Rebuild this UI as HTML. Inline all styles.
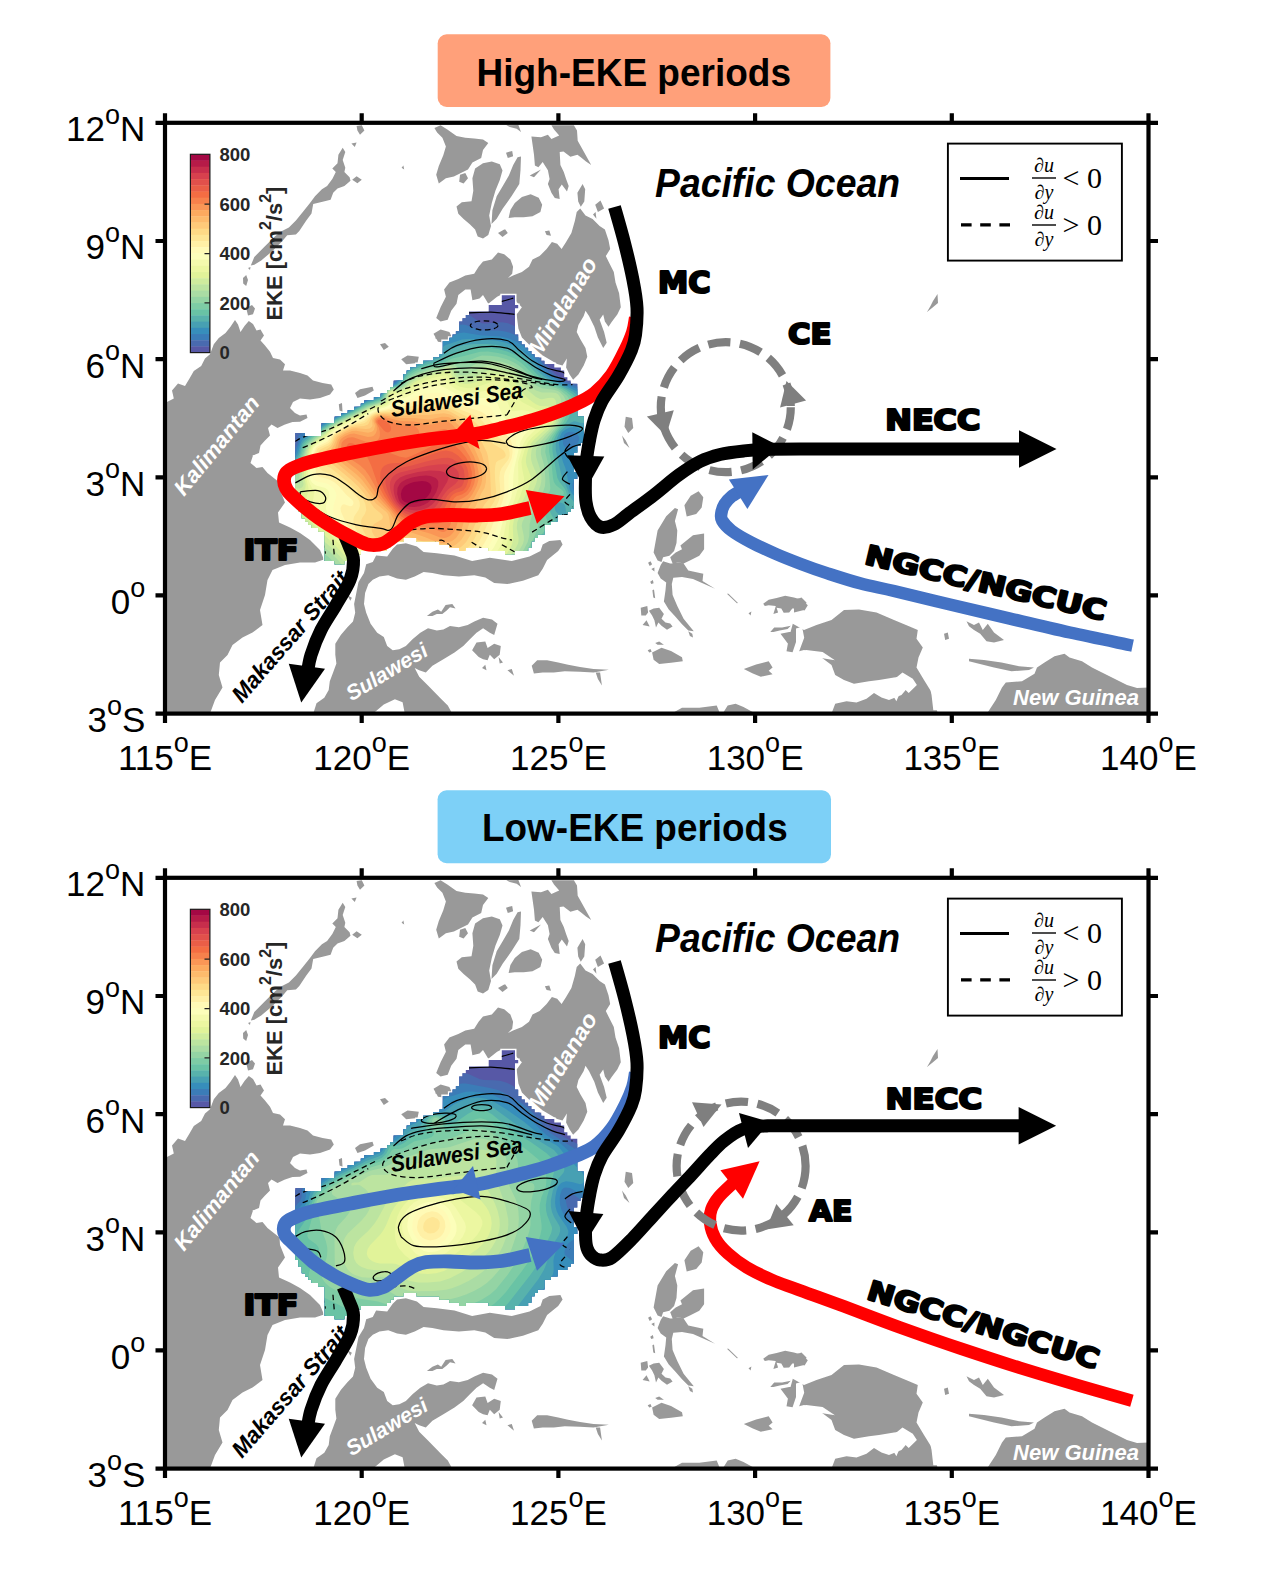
<!DOCTYPE html><html><head><meta charset="utf-8"><title>EKE periods schematic</title><style>html,body{margin:0;padding:0;background:#fff}svg{display:block}</style></head><body><svg width="1269" height="1585" viewBox="0 0 1269 1585">
<defs>
<clipPath id="sea"><path d="M301.8,433.0 298.5,433.0 295.2,433.0 295.2,436.2 295.2,439.5 295.2,442.8 295.2,446.1 295.2,449.4 295.2,452.6 295.2,455.9 295.2,459.2 295.2,462.5 295.2,465.8 295.2,469.0 295.2,472.3 295.2,475.6 295.2,478.9 295.2,482.2 295.2,485.4 295.2,488.7 295.2,492.0 295.2,495.3 295.2,498.6 295.2,501.8 295.2,505.1 298.5,505.1 298.5,508.4 298.5,511.7 301.8,511.7 301.8,515.0 301.8,518.2 305.0,518.2 305.0,521.5 308.3,521.5 308.3,524.8 311.6,524.8 311.6,528.1 314.9,528.1 318.2,528.1 318.2,531.4 321.4,531.4 324.7,531.4 324.7,534.6 324.7,537.9 324.7,541.2 324.7,544.5 324.7,547.8 324.7,551.0 324.7,554.3 324.7,557.6 324.7,560.9 328.0,560.9 331.3,560.9 334.6,560.9 334.6,564.2 337.8,564.2 341.1,564.2 344.4,564.2 344.4,560.9 347.7,560.9 351.0,560.9 354.2,560.9 357.5,560.9 357.5,557.6 357.5,554.3 360.8,554.3 360.8,551.0 364.1,551.0 367.4,551.0 370.6,551.0 373.9,551.0 377.2,551.0 380.5,551.0 383.8,551.0 387.0,551.0 387.0,547.8 390.3,547.8 390.3,544.5 393.6,544.5 393.6,541.2 396.9,541.2 400.2,541.2 403.4,541.2 403.4,537.9 406.7,537.9 410.0,537.9 413.3,537.9 416.6,537.9 416.6,541.2 419.8,541.2 423.1,541.2 426.4,541.2 429.7,541.2 433.0,541.2 436.2,541.2 439.5,541.2 439.5,544.5 442.8,544.5 446.1,544.5 449.4,544.5 449.4,547.8 452.6,547.8 455.9,547.8 459.2,547.8 459.2,551.0 462.5,551.0 465.8,551.0 465.8,547.8 469.0,547.8 472.3,547.8 475.6,547.8 478.9,547.8 482.2,547.8 485.4,547.8 488.7,547.8 488.7,551.0 492.0,551.0 495.3,551.0 498.6,551.0 501.8,551.0 505.1,551.0 505.1,554.3 508.4,554.3 511.7,554.3 515.0,554.3 515.0,551.0 518.2,551.0 521.5,551.0 524.8,551.0 528.1,551.0 528.1,547.8 531.4,547.8 531.4,544.5 531.4,541.2 534.6,541.2 534.6,537.9 537.9,537.9 537.9,534.6 541.2,534.6 544.5,534.6 544.5,531.4 544.5,528.1 544.5,524.8 547.8,524.8 551.0,524.8 551.0,521.5 554.3,521.5 557.6,521.5 557.6,518.2 557.6,515.0 560.9,515.0 564.2,515.0 567.4,515.0 567.4,511.7 570.7,511.7 570.7,508.4 574.0,508.4 574.0,505.1 574.0,501.8 574.0,498.6 574.0,495.3 574.0,492.0 574.0,488.7 574.0,485.4 574.0,482.2 574.0,478.9 577.3,478.9 577.3,475.6 577.3,472.3 574.0,472.3 574.0,469.0 574.0,465.8 574.0,462.5 574.0,459.2 574.0,455.9 574.0,452.6 577.3,452.6 577.3,449.4 577.3,446.1 580.6,446.1 580.6,442.8 583.8,442.8 583.8,439.5 583.8,436.2 583.8,433.0 583.8,429.7 583.8,426.4 583.8,423.1 583.8,419.8 583.8,416.6 580.6,416.6 577.3,416.6 577.3,413.3 577.3,410.0 577.3,406.7 577.3,403.4 577.3,400.2 577.3,396.9 577.3,393.6 577.3,390.3 577.3,387.0 577.3,383.8 574.0,383.8 570.7,383.8 570.7,380.5 567.4,380.5 567.4,377.2 564.2,377.2 564.2,373.9 564.2,370.6 560.9,370.6 560.9,367.4 557.6,367.4 554.3,367.4 554.3,364.1 551.0,364.1 547.8,364.1 544.5,364.1 544.5,360.8 541.2,360.8 541.2,357.5 537.9,357.5 534.6,357.5 534.6,354.2 531.4,354.2 531.4,351.0 528.1,351.0 528.1,347.7 524.8,347.7 524.8,344.4 521.5,344.4 521.5,341.1 518.2,341.1 518.2,337.8 518.2,334.6 515.0,334.6 515.0,331.3 515.0,328.0 515.0,324.7 515.0,321.4 515.0,318.2 515.0,314.9 515.0,311.6 515.0,308.3 518.2,308.3 518.2,305.0 515.0,305.0 515.0,301.8 515.0,298.5 515.0,295.2 511.7,295.2 508.4,295.2 505.1,295.2 501.8,295.2 501.8,298.5 501.8,301.8 501.8,305.0 498.6,305.0 495.3,305.0 492.0,305.0 488.7,305.0 488.7,308.3 488.7,311.6 485.4,311.6 482.2,311.6 478.9,311.6 475.6,311.6 472.3,311.6 469.0,311.6 469.0,314.9 465.8,314.9 465.8,318.2 462.5,318.2 462.5,321.4 459.2,321.4 459.2,324.7 459.2,328.0 459.2,331.3 455.9,331.3 455.9,334.6 452.6,334.6 452.6,337.8 449.4,337.8 449.4,341.1 446.1,341.1 442.8,341.1 442.8,344.4 442.8,347.7 442.8,351.0 442.8,354.2 439.5,354.2 439.5,357.5 436.2,357.5 433.0,357.5 433.0,360.8 429.7,360.8 426.4,360.8 423.1,360.8 423.1,364.1 419.8,364.1 416.6,364.1 416.6,367.4 413.3,367.4 410.0,367.4 410.0,370.6 406.7,370.6 406.7,373.9 403.4,373.9 403.4,377.2 403.4,380.5 400.2,380.5 396.9,380.5 393.6,380.5 393.6,383.8 393.6,387.0 390.3,387.0 390.3,390.3 387.0,390.3 387.0,393.6 383.8,393.6 380.5,393.6 380.5,396.9 377.2,396.9 373.9,396.9 373.9,400.2 370.6,400.2 367.4,400.2 364.1,400.2 364.1,403.4 360.8,403.4 360.8,406.7 357.5,406.7 354.2,406.7 354.2,410.0 351.0,410.0 347.7,410.0 347.7,413.3 344.4,413.3 341.1,413.3 341.1,416.6 337.8,416.6 334.6,416.6 334.6,419.8 334.6,423.1 331.3,423.1 328.0,423.1 324.7,423.1 321.4,423.1 321.4,426.4 321.4,429.7 321.4,433.0 321.4,436.2 318.2,436.2 314.9,436.2 311.6,436.2 308.3,436.2 305.0,436.2 305.0,433.0Z"/></clipPath>
<clipPath id="box"><rect x="165.0" y="122.8" width="983.5" height="590.8000000000001"/></clipPath>
<g id="land" fill="#999999">
<path d="M250.8,265.6 254.3,257 264.7,246.6 275.1,236.2 282,231 288.9,227.5 295.9,220.6 302.8,211.9 309.8,203.2 315,196.3 321.9,189.3 327.1,185.9 332.3,178.9 335.8,172 332.3,168.5 337.5,163.3 338.4,154.7 342.7,147.7 345.3,152.1 342.7,159.9 345.3,167.7 344.4,172 349.6,177.2 350.5,180.7 344.4,185.9 337.5,188.5 333.2,192.8 330.6,199.8 323.6,201.5 313.2,204.1 311.5,213.6 306.3,220.6 299.3,231 295.9,234.4 287.2,235.3 282,241.4 271.6,251.8 261.2,260.4 254.3,264.8ZM352.2,179.8 356.6,176.3 361.8,179.8 357.4,183.3ZM356.6,126.1 361.8,125.2 364.4,130.4 360,134.7 357.4,130.4ZM351.4,143.4 356.6,142.5 354.8,146.9ZM401.6,167.7 403.4,165.4 404.2,169.4ZM243,278 246.2,275 248,280 246.2,286 243.2,283.5ZM246.2,308 252,305 255,308.5 253,314.2 248,315.5ZM248,268 250.5,267 250,270ZM165,403 173.8,398.5 172,390.5 178,383.5 185,386 189.5,378.5 193.8,371 201.2,366 205,358.5 210,354.2 213.8,344.2 218.8,338 225.5,333 230.5,326.8 235,320 238,324.5 240.5,332 244.5,326 248.8,321 253,324 256.5,330.5 260.5,329.5 264,335.5 260.5,340.5 265,345.5 270,351.8 273,358 280,359.5 285,364.2 283,370.5 290,370.5 300,373 307.5,375.5 313,380.5 322.5,383 331.2,384.5 333.8,389.5 330,394.5 320,398 310,399.5 300,398.5 293,402 290,408 295,413 300,415.5 306.5,414.5 307.5,418 300,421.8 292.5,422 285,424.5 277.5,428 271.5,424.5 268,428 270,435.5 265,440.5 260.5,445.5 259,453 253,455.5 250.5,463 256.5,468 262.5,467 267.5,473 273.8,478 279.5,482.5 280,490 285,502.5 278,512.5 279,522.5 290,527.5 300,533 310,540 320,550 324,559.5 315,562.5 300,562.5 285,565 272.5,570 267.5,580 265,595 260,610 262.5,625 252.5,632.5 242.5,637.5 232.5,645 227.5,655 220,662.5 218.8,675 222.5,687.5 215,700 210,713.5 165,713.5ZM401.2,359.2 407.5,355.5 418.8,356.8 417.5,363 406.2,364.2ZM380,344.2 385,343 388.8,346.8 383.8,350ZM355,393 360,389.2 372.5,386.8 373.8,390.5 365,395.5 357.5,398ZM338.8,404.2 342,403 342.5,411.8 339.5,410.5ZM435,338 440,333 450,334.2 451.2,339.2 442.5,343ZM434.4,128 440.6,125.3 447.7,129.7 456.5,135.9 465.3,137.7 474.2,138.6 483,139.4 488.3,143 483,150 481.2,158 472.4,162.4 468,169.5 460.9,173 453.9,176.5 445.9,178.3 438.8,183.6 436.2,174.8 438.8,165.9 443.3,155.3 445.9,146.5 442.4,137.7 437.1,132.4ZM460,174.8 465.3,173 468,178.3 463.6,183.6 459.2,181.8ZM456.5,206.6 461.8,202.2 471.5,201.3 473.3,190.7 472.4,178.3 475.1,168.6 483,163.3 491.8,161.5 499.8,164.2 502.5,170.4 499.8,180.1 495.4,190.7 491.8,203.1 489.2,215.4 491,226 488.3,234.9 483,238.4 477.7,236.6 475.1,229.6 469.8,224.3 463.6,219 458.3,213.7ZM517.6,157.3 521,156.4 520.5,170.3 519.3,184.1 511.5,196.3 502.8,208.4 496.7,218.8 491.5,224 492.4,210.2 496.7,196.3 502.8,185.9 508.9,175.5 513.2,165.1ZM510.4,210.1 514.8,203.1 521.9,196.9 530.7,194.2 538.7,197.8 542.2,204.8 540.4,211.9 532.5,216.3 523.7,217.2 514.8,217.2 508.6,218.1ZM498,233.1 504.2,229.6 506.9,233.1 502.5,236.6ZM506,152.7 512.2,150.9 513.1,156.2 507.8,158ZM531.4,136.5 541,137.3 547.9,134.7 551.4,139.1 559.2,135.6 554,129.5 551.4,125.2 573.9,125.2 577,130.4 577.7,140.8 582.6,149.5 586.9,157.3 591.2,165.1 586,161.6 580.8,157.3 577.4,154.7 570.4,156.8 563.5,151.6 559.7,152.1 560.4,165.1 563.8,172 566.1,178.9 568.7,185.9 567,191.4 561.8,184.5 558.6,189.3 559.7,198.9 554.8,198 551.4,192.8 547.9,184.1 549.6,178.9 547.9,170.3 542.7,162 538.4,167.2 534.9,165.4 534,154.7ZM577.4,192.8 582.6,184.1 585.2,189.3 584.3,201.5 580.8,206.7 578.2,201.5ZM593,214.5 595.6,211.9 596.4,218.8ZM529.7,175.5 541,169.4 534,177.2ZM506.3,125.2 518.4,124.9 521,132.1 516.7,128.7 509.8,126.9ZM595.2,204.8 600.5,200.4 604.1,208.4 597.9,211.9ZM544.9,231.3 549.3,230.4 551,235.7 546.6,234.9ZM498,233.1 505.1,229.2 507.8,233.1 502.5,237ZM436.2,317.9 440.6,307.3 445.9,296.7 444.1,289.6 449.4,282.6 458.3,279 465.3,275.5 474.2,273.7 478.6,266.7 483,261.4 491.8,259.6 498,252.5 504.2,254.3 510.4,259.6 513.1,266.7 512.2,273.7 507.8,278.2 513.1,275.5 521.9,272 529,266.7 532.5,259.6 539.6,256.1 546.6,249 551.9,241.9 557.2,243.7 561.6,249 566.1,241.9 571.4,233.1 574.9,220.7 576.7,211.9 580.2,208.4 585.5,215.4 592.6,219 599.6,226 604.9,229.6 608.5,240.2 610.2,249 605.8,256.1 608.5,261.4 613.8,272 615.5,282.6 619.1,293.2 620.8,307.3 617.3,314.4 612,321.4 608.5,326.8 604.9,321.4 603.2,314.4 599.6,319.7 604.1,332.1 606.7,342.7 603.2,348 597.9,337.4 594.3,326.8 589,316.1 585.5,310.8 583.7,316.1 578.4,325 576.7,332.1 580.2,339.1 585.5,348 587.3,356.8 583.7,365.6 578.4,374.5 573.1,379.8 569.6,374.5 566.1,367.4 566.9,358.6 562.5,365.6 557.2,363.9 544.9,356.8 536,351.5 529,344.4 521.9,337.4 518.4,328.5 516.6,314.4 521.9,307.3 516.6,302 513.1,294.9 502.5,294.1 497.1,296.7 488.3,303.8 483,294.9 479.5,298.5 472.4,300.2 470.6,289.6 465.3,289.6 458.3,294.9 456.5,303.8 451.2,310.8 447.7,319.7 440.6,321.4ZM433.5,333.8 440.6,329.4 449.4,332.1 452.1,337.4 445.9,342.7 438,341.8ZM366.2,564.3 372.8,562.1 376.1,555.4 387.2,556.5 392.7,548.8 397.1,544.4 405.9,543.3 416.9,546.6 423.6,552.1 436.8,553.2 454.5,555.4 472.1,561 489.8,557.7 511.8,561 529.5,556.5 540.5,551 542.7,544.4 549.3,541.1 560.4,540 562.6,544.4 558.2,551 547.1,559.9 542.7,568.7 538.3,575.3 522.9,580.8 507.4,584.1 494.2,583 485.3,577.5 474.3,575.3 458.9,576.4 443.4,575.3 432.4,573.1 423.6,572 414.7,576.4 405.9,579.7 397.1,578.6 388.3,575.3 379.4,576.4 372.8,579.7 368.4,584.1 365.1,593 364,604 366.2,612.8 370.6,623.8 377.2,632.7 383.8,637.1 387.2,645.9 392.7,650.3 399.3,649.2 405.9,645.9 412.5,639.3 420.3,632.7 428,628.3 436.8,630.5 443.4,629.4 450,626.1 458.9,627.2 467.7,625 474.3,621.6 483.1,617.7 492,619.4 497.5,623.8 494.2,634.9 489.8,632.7 483.1,628.3 476.5,632.7 469.9,639.3 463.3,645.9 454.5,652.5 443.4,659.2 432.4,665.8 425.8,672.4 419.2,670.2 414.7,668 419.2,676.8 428,685.6 434.6,692.3 441.2,698.9 447.8,705.5 452.3,713.7 404.8,713.7 402.6,702.2 394.9,699.3 383.8,704.4 372.8,713.7 313.2,713.7 316.5,703.3 324.3,697.8 328.7,690 329.8,681.2 333.1,672.4 336.4,663.6 335.3,654.7 335.3,643.7 340.8,634.9 347.4,627.2 353,621.6 355.2,612.8 354.1,604 356.3,593 358.5,581.9 364,573.1ZM426.9,616.1 432.4,611.7 437.9,609.5 441.2,611.7 445.6,605.1 452.3,604 455.6,608.4 450,607.3 446.7,610.6 442.3,613.9 436.8,613.9 432.4,616.1ZM472.1,650.3 476.5,642.6 485.3,641.5 487.6,648.1 494.2,643.7 500.8,645.9 499.7,654.7 494.2,659.2 489.8,654.7 487.6,660.3 483.1,659.2 478.7,656.9ZM482,668 485.3,664.7 486.5,670.2ZM498.6,656.9 503,662.5 499.7,663.6ZM507.4,670.2 511.8,669.1 514,675.7ZM531.7,665.8 537.2,660.3 547.1,660.3 558.2,662.5 568.1,664.7 580,666.9 593.5,669.1 608.9,669.7 593.5,672.4 580,671.7 564.8,671.3 553.8,672.4 542.7,672.4 533.9,673.5ZM595.7,672.4 600.1,672.4 601.9,685.6 597.9,679ZM347.4,595.2 351.9,597.8 350.3,600.7ZM684.4,505.2 690.7,495.8 698.6,491.3 703.3,497.3 701.7,507.6 696.2,513.9 686.7,516.6ZM653.6,552.5 657.6,530.4 666.2,516.2 674.9,508.1 678.1,509.2 674.9,521 677.3,530.4 676.5,543 674.1,550.9 669.4,555.7 663.1,557.2 661.5,562 657.6,560.4ZM670.2,557.2 675.7,552.5 682,549.3 680.4,545.4 693,535.2 704.1,533.6 704.1,549.3 699.3,555.7 689.9,560.4 683.6,563.5 677.3,562 672.6,563.5ZM657.6,573 660.7,565.1 663.1,561.2 670.2,563.5 677.3,562.3 683.6,563.5 688.3,570.6 703.3,573.8 702.5,580.9 715.1,588.7 700.9,582.4 693,579 682,576.9 673.3,577.7 671.8,584 672.6,595.1 677.3,606.1 683.6,618.7 689.9,626.6 693.8,631.3 688.3,630.5 682,624.2 675.7,617.1 668.6,609.2 663.9,601.4 665.5,590.3 666.2,582.4 660.7,578.5ZM648.1,562.7 650.5,561.2 652.1,564.3 649.7,565.9ZM651.3,569 654.4,567.5 654.4,571.4ZM650.2,581.7 652.9,580.1 653.6,583.2 651.3,584ZM652.4,590.3 654,589.5 655.2,598.2 653.3,597.4ZM640.7,607.7 647.3,606.1 648.1,612.4 645.8,615.5 641.3,615.5ZM648.9,610.8 653.6,608.4 659.2,607.7 663.9,614 661.5,618.7 665.5,622.6 670.2,623.4 672.6,626.6 667,629.7 661.5,625.8 658.4,622.6 656,627.4 654.4,620.3 652.1,615.5ZM642.6,625 646.5,620.3 649.7,626.6ZM652.1,652.6 661.5,647.8 671,651 682,657.3 682.8,661.2 671,662.8 659.2,664.1 653.6,659.7ZM655.2,643.1 659.2,641.5 663.9,644.7 657.6,644.7ZM647.7,650.2 650.5,649 651.7,651.8 649.2,652.6ZM688.3,631.3 692.3,633.7 693,637.6 689.9,636ZM763.2,603.7 768.7,599.8 776.6,597.9 785.2,595.8 793.9,597.4 801.8,599.8 807.8,605.3 804.6,610.5 797.1,607.7 792.3,608.4 789.2,612.4 783.7,612.7 781.3,608.4 776.6,607.7 778.1,612.4 773.4,614 775.8,606.1 768.7,605.3 764.8,606.1ZM770.3,632.1 774.2,627.4 782.1,627.4 790.8,625.8 787.6,628.9 779.7,630.5 773.4,632.1ZM780.5,633.7 789.2,632.1 796.3,631.3 797.8,635.2 795.5,643.9 792.3,648.6 789.2,645.5 785.2,640ZM743.8,669.1 756.1,664.4 768.7,661.2 772.6,667.5 768.7,670.7 772.6,674.2 760.8,676.7 752.9,673.5ZM672.6,712.9 682,707.7 699.3,707.7 716.7,705.4 719.8,712.9ZM723,712.9 727.7,705.4 735.6,703.8 743.5,707 754.5,712.9ZM726.9,593.8 728.5,593.8 738,602.9 736.9,603.2ZM748.5,613.2 751.4,611.6 750.6,615.5ZM789,637.5 792.8,623.8 804,630 816.5,625 831.5,620 844,610 859,609.5 876.5,612.5 894,620 909,626.2 917.8,630 916.5,638.8 922.8,647.5 918.5,657.5 916.5,667.5 924,680 930.2,690 934,700 937.8,713.5 831.5,713.5 835.2,703.8 846.5,701.2 856.5,702.5 866.5,698.8 874,693 881.5,697.5 889,700 895.2,697.5 901.5,695 907.8,687.5 911.5,680 904,676.2 894,677.5 879,680 869,681.2 854,683.8 844,680 835.2,675 831.5,665 821.5,657.5 811.5,652.5 804,650 794,652.5 786.5,651.2ZM794,600 801.5,597.5 806.5,602.5 804,610 794,612.5ZM966.5,621.2 974,625 979,622.5 982.8,630 987.8,623.8 994,632.5 1004,640 994,642.5 986.5,641.2 980.2,633.8 974,630 969,626.2ZM944,633.8 947.8,632.5 949,638.8 945.2,640ZM969,658.8 984,660 1001.5,662.5 1019,666.2 1034,667.5 1029,670 1011.5,671.2 994,667.5 979,663.8 969,661.2ZM987,713.5 995.8,700 1002,687.5 1005.8,682.5 1022,681.2 1034.5,673.8 1037,667.5 1044.5,662.5 1054.5,656.2 1064.5,653.8 1069.5,657.5 1082,661.2 1092,667.5 1102,672.5 1114.5,678.8 1127,685 1137,688 1148.5,687.5 1148.5,713.5ZM937.5,294 938,303 932,308 927,312 930.5,306 933,301ZM625.75,416.75 632,418 633.25,428 628.25,433 624.5,426.75ZM622,435.5 625.75,440.5 629.5,448 624,443Z"/>
<path fill="#fff" d="M796,628.4 802.1,626.7 804.2,637.8 798.9,652.1 791.9,654.2 796,641.9ZM793.9,654.2 806.2,650.1 822.6,652.1 834.9,660.3 822.6,658.3 810.3,660.3 798,662.4ZM880,684.9 892.3,680.8 902.5,672.6 912.8,678.8 916.9,684.9 908.7,693.1 902.5,687 896.4,701.3 890.2,691.1 884.1,697.2ZM930.4,684.9 935.3,684.9 937.4,710.3 933.3,710.3ZM252.5,455 277.5,463.8 270,465 255,460ZM260,450 272.5,447.5 278.8,457.5 270,455ZM300,403 320,405.5 312.5,410.5 302.5,409.2ZM270,443 277.5,440.5 276.2,453 271.2,454.2Z"/>
</g>
<g id="axes" stroke="#000" stroke-width="4.2" fill="none">
<rect x="165.0" y="122.8" width="983.5" height="590.8000000000001"/>
<path d="M165.0,122.8v-9.5M165.0,713.6v9.5M165.0,122.8h-9.5M1148.5,122.8h9.5M361.7,122.8v-9.5M361.7,713.6v9.5M165.0,241.0h-9.5M1148.5,241.0h9.5M558.4,122.8v-9.5M558.4,713.6v9.5M165.0,359.1h-9.5M1148.5,359.1h9.5M755.1,122.8v-9.5M755.1,713.6v9.5M165.0,477.3h-9.5M1148.5,477.3h9.5M951.8,122.8v-9.5M951.8,713.6v9.5M165.0,595.4h-9.5M1148.5,595.4h9.5M1148.5,122.8v-9.5M1148.5,713.6v9.5M165.0,713.6h-9.5M1148.5,713.6h9.5"/>
</g>
<linearGradient id="cb" x1="0" y1="0" x2="0" y2="1"><stop offset="0.0000" stop-color="#9e0142"/><stop offset="0.0625" stop-color="#be254a"/><stop offset="0.1250" stop-color="#dc484c"/><stop offset="0.1875" stop-color="#ef6645"/><stop offset="0.2500" stop-color="#f88c51"/><stop offset="0.3125" stop-color="#fdb365"/><stop offset="0.3750" stop-color="#fed27f"/><stop offset="0.4375" stop-color="#feeb9d"/><stop offset="0.5000" stop-color="#fffebe"/><stop offset="0.5625" stop-color="#f0f9a7"/><stop offset="0.6250" stop-color="#d8ef9b"/><stop offset="0.6875" stop-color="#b3e0a2"/><stop offset="0.7500" stop-color="#89d0a4"/><stop offset="0.8125" stop-color="#60bba8"/><stop offset="0.8750" stop-color="#3f97b7"/><stop offset="0.9375" stop-color="#4273b3"/><stop offset="1.0000" stop-color="#5e4fa2"/></linearGradient>
</defs>
<rect width="1269" height="1585" fill="#fff"/>
<g transform="translate(0,0)">
<g clip-path="url(#box)">
<use href="#land"/>
<path d="M301.8,433.0 298.5,433.0 295.2,433.0 295.2,436.2 295.2,439.5 295.2,442.8 295.2,446.1 295.2,449.4 295.2,452.6 295.2,455.9 295.2,459.2 295.2,462.5 295.2,465.8 295.2,469.0 295.2,472.3 295.2,475.6 295.2,478.9 295.2,482.2 295.2,485.4 295.2,488.7 295.2,492.0 295.2,495.3 295.2,498.6 295.2,501.8 295.2,505.1 298.5,505.1 298.5,508.4 298.5,511.7 301.8,511.7 301.8,515.0 301.8,518.2 305.0,518.2 305.0,521.5 308.3,521.5 308.3,524.8 311.6,524.8 311.6,528.1 314.9,528.1 318.2,528.1 318.2,531.4 321.4,531.4 324.7,531.4 324.7,534.6 324.7,537.9 324.7,541.2 324.7,544.5 324.7,547.8 324.7,551.0 324.7,554.3 324.7,557.6 324.7,560.9 328.0,560.9 331.3,560.9 334.6,560.9 334.6,564.2 337.8,564.2 341.1,564.2 344.4,564.2 344.4,560.9 347.7,560.9 351.0,560.9 354.2,560.9 357.5,560.9 357.5,557.6 357.5,554.3 360.8,554.3 360.8,551.0 364.1,551.0 367.4,551.0 370.6,551.0 373.9,551.0 377.2,551.0 380.5,551.0 383.8,551.0 387.0,551.0 387.0,547.8 390.3,547.8 390.3,544.5 393.6,544.5 393.6,541.2 396.9,541.2 400.2,541.2 403.4,541.2 403.4,537.9 406.7,537.9 410.0,537.9 413.3,537.9 416.6,537.9 416.6,541.2 419.8,541.2 423.1,541.2 426.4,541.2 429.7,541.2 433.0,541.2 436.2,541.2 439.5,541.2 439.5,544.5 442.8,544.5 446.1,544.5 449.4,544.5 449.4,547.8 452.6,547.8 455.9,547.8 459.2,547.8 459.2,551.0 462.5,551.0 465.8,551.0 465.8,547.8 469.0,547.8 472.3,547.8 475.6,547.8 478.9,547.8 482.2,547.8 485.4,547.8 488.7,547.8 488.7,551.0 492.0,551.0 495.3,551.0 498.6,551.0 501.8,551.0 505.1,551.0 505.1,554.3 508.4,554.3 511.7,554.3 515.0,554.3 515.0,551.0 518.2,551.0 521.5,551.0 524.8,551.0 528.1,551.0 528.1,547.8 531.4,547.8 531.4,544.5 531.4,541.2 534.6,541.2 534.6,537.9 537.9,537.9 537.9,534.6 541.2,534.6 544.5,534.6 544.5,531.4 544.5,528.1 544.5,524.8 547.8,524.8 551.0,524.8 551.0,521.5 554.3,521.5 557.6,521.5 557.6,518.2 557.6,515.0 560.9,515.0 564.2,515.0 567.4,515.0 567.4,511.7 570.7,511.7 570.7,508.4 574.0,508.4 574.0,505.1 574.0,501.8 574.0,498.6 574.0,495.3 574.0,492.0 574.0,488.7 574.0,485.4 574.0,482.2 574.0,478.9 577.3,478.9 577.3,475.6 577.3,472.3 574.0,472.3 574.0,469.0 574.0,465.8 574.0,462.5 574.0,459.2 574.0,455.9 574.0,452.6 577.3,452.6 577.3,449.4 577.3,446.1 580.6,446.1 580.6,442.8 583.8,442.8 583.8,439.5 583.8,436.2 583.8,433.0 583.8,429.7 583.8,426.4 583.8,423.1 583.8,419.8 583.8,416.6 580.6,416.6 577.3,416.6 577.3,413.3 577.3,410.0 577.3,406.7 577.3,403.4 577.3,400.2 577.3,396.9 577.3,393.6 577.3,390.3 577.3,387.0 577.3,383.8 574.0,383.8 570.7,383.8 570.7,380.5 567.4,380.5 567.4,377.2 564.2,377.2 564.2,373.9 564.2,370.6 560.9,370.6 560.9,367.4 557.6,367.4 554.3,367.4 554.3,364.1 551.0,364.1 547.8,364.1 544.5,364.1 544.5,360.8 541.2,360.8 541.2,357.5 537.9,357.5 534.6,357.5 534.6,354.2 531.4,354.2 531.4,351.0 528.1,351.0 528.1,347.7 524.8,347.7 524.8,344.4 521.5,344.4 521.5,341.1 518.2,341.1 518.2,337.8 518.2,334.6 515.0,334.6 515.0,331.3 515.0,328.0 515.0,324.7 515.0,321.4 515.0,318.2 515.0,314.9 515.0,311.6 515.0,308.3 518.2,308.3 518.2,305.0 515.0,305.0 515.0,301.8 515.0,298.5 515.0,295.2 511.7,295.2 508.4,295.2 505.1,295.2 501.8,295.2 501.8,298.5 501.8,301.8 501.8,305.0 498.6,305.0 495.3,305.0 492.0,305.0 488.7,305.0 488.7,308.3 488.7,311.6 485.4,311.6 482.2,311.6 478.9,311.6 475.6,311.6 472.3,311.6 469.0,311.6 469.0,314.9 465.8,314.9 465.8,318.2 462.5,318.2 462.5,321.4 459.2,321.4 459.2,324.7 459.2,328.0 459.2,331.3 455.9,331.3 455.9,334.6 452.6,334.6 452.6,337.8 449.4,337.8 449.4,341.1 446.1,341.1 442.8,341.1 442.8,344.4 442.8,347.7 442.8,351.0 442.8,354.2 439.5,354.2 439.5,357.5 436.2,357.5 433.0,357.5 433.0,360.8 429.7,360.8 426.4,360.8 423.1,360.8 423.1,364.1 419.8,364.1 416.6,364.1 416.6,367.4 413.3,367.4 410.0,367.4 410.0,370.6 406.7,370.6 406.7,373.9 403.4,373.9 403.4,377.2 403.4,380.5 400.2,380.5 396.9,380.5 393.6,380.5 393.6,383.8 393.6,387.0 390.3,387.0 390.3,390.3 387.0,390.3 387.0,393.6 383.8,393.6 380.5,393.6 380.5,396.9 377.2,396.9 373.9,396.9 373.9,400.2 370.6,400.2 367.4,400.2 364.1,400.2 364.1,403.4 360.8,403.4 360.8,406.7 357.5,406.7 354.2,406.7 354.2,410.0 351.0,410.0 347.7,410.0 347.7,413.3 344.4,413.3 341.1,413.3 341.1,416.6 337.8,416.6 334.6,416.6 334.6,419.8 334.6,423.1 331.3,423.1 328.0,423.1 324.7,423.1 321.4,423.1 321.4,426.4 321.4,429.7 321.4,433.0 321.4,436.2 318.2,436.2 314.9,436.2 311.6,436.2 308.3,436.2 305.0,436.2 305.0,433.0Z" fill="#fff" stroke="#fff" stroke-width="3" stroke-linejoin="miter"/>
<g clip-path="url(#sea)" fill-rule="evenodd">
<rect x="285" y="285" width="310" height="290" fill="#5758a6"/>
<path d="M460.0,315.6 466.0,314.3 470.0,315.2 479.4,322.0 482.0,323.3 486.0,323.6 496.0,322.4 502.0,322.2 508.0,323.2 514.0,325.7 522.0,331.5 530.0,339.8 538.0,350.5 547.8,366.0 551.0,370.0 555.2,374.0 564.0,379.9 566.0,380.8 582.0,385.0 594.0,389.0 594.0,570.1 584.0,565.8 568.0,557.7 562.0,555.8 558.0,555.6 554.0,556.5 552.0,557.8 550.2,560.0 548.0,565.2 545.8,574.0 284.0,574.0 284.0,458.7 290.0,453.8 292.0,451.1 293.5,448.0 295.7,442.0 295.5,440.0 294.0,436.0 294.2,434.0 295.5,432.0 298.0,430.8 308.0,428.3 318.0,424.1 330.0,417.5 349.1,408.0 364.0,399.4 372.9,396.0 376.9,394.0 384.0,385.3 388.0,383.0 392.0,381.8 394.9,380.0 402.0,369.4 406.0,364.9 424.8,350.0 438.0,334.6 450.0,322.5 456.0,317.7Z" fill="#496aaf"/>
<path d="M458.0,325.2 462.0,324.4 466.0,325.0 476.0,328.9 482.0,330.5 498.0,330.6 504.0,331.2 510.0,332.8 516.0,335.4 524.0,340.8 530.0,346.6 536.0,353.8 545.9,368.0 552.0,374.4 564.0,381.9 580.0,387.2 594.0,393.5 594.0,560.4 584.0,556.7 568.0,549.2 564.0,548.1 560.0,547.9 556.0,548.4 550.7,550.0 548.0,551.5 546.0,553.6 543.3,560.0 539.6,574.0 284.0,574.0 284.0,462.0 290.0,457.4 294.0,452.6 298.1,442.0 298.3,436.0 300.1,434.0 318.0,425.7 330.0,418.9 351.4,408.0 362.0,401.7 368.0,398.9 376.0,396.1 378.0,394.9 380.0,392.7 382.8,388.0 384.8,386.0 388.0,384.1 394.0,382.5 396.0,380.9 403.4,370.0 408.0,365.3 427.3,352.0 431.4,348.0 438.0,340.2 442.0,336.5 454.0,327.3Z" fill="#3b7cb7"/>
<path d="M458.0,333.6 460.0,332.9 464.0,332.6 480.0,335.2 500.0,336.5 508.0,338.3 516.0,341.5 524.0,346.7 530.0,352.2 535.0,358.0 544.1,370.0 550.4,376.0 564.0,383.5 579.8,390.0 594.0,398.9 594.0,551.6 582.0,548.2 570.0,542.1 566.0,540.7 562.0,541.2 554.0,544.0 546.0,547.6 543.2,550.0 540.0,556.7 534.5,574.0 284.0,574.0 284.0,465.1 292.0,458.7 295.6,454.0 300.0,440.8 301.3,438.0 303.3,436.0 309.6,432.0 330.0,420.1 352.0,408.9 364.0,401.8 378.7,396.0 380.6,394.0 384.0,388.0 386.0,386.1 390.0,384.5 394.0,383.9 396.8,382.0 404.0,371.5 408.0,367.5 412.0,364.6 430.1,354.0 434.7,350.0 440.0,343.8 444.0,340.5ZM568.5,432.0 566.0,433.1 564.0,435.1 562.8,440.0 563.2,444.0 564.0,446.1 566.0,448.6 568.0,449.4 572.0,447.9 576.8,444.0 578.3,442.0 579.1,440.0 579.2,438.0 578.6,436.0 576.0,433.2 572.0,431.7ZM575.4,478.0 573.7,480.0 572.6,484.0 572.5,488.0 574.0,491.0 578.0,493.1 582.0,493.6 586.0,492.6 588.0,491.3 589.2,490.0 590.0,488.1 590.1,486.0 589.5,484.0 588.3,482.0 586.0,479.9 582.0,477.8 578.0,477.1Z" fill="#378ebb"/>
<path d="M462.0,339.6 470.0,339.1 496.0,340.6 506.0,342.7 516.0,346.5 522.0,350.2 528.0,355.2 532.6,360.0 542.4,372.0 546.8,376.0 552.0,379.3 578.0,392.0 583.3,396.0 594.0,406.3 594.0,474.2 578.0,468.0 575.2,466.0 573.7,464.0 572.9,462.0 572.6,458.0 574.0,454.0 576.0,451.4 583.6,444.0 585.7,440.0 585.9,436.0 585.2,434.0 582.0,430.4 578.0,428.1 574.0,427.0 570.0,427.4 566.0,429.3 562.4,432.0 561.1,434.0 559.6,438.0 558.9,444.0 560.0,451.0 563.0,462.0 565.4,468.0 566.4,472.0 569.4,488.0 570.0,490.0 572.0,493.7 576.0,497.4 582.0,500.1 588.0,501.2 594.0,501.0 594.0,542.8 586.0,542.0 582.0,541.0 578.0,539.2 573.7,536.0 568.0,527.8 566.0,527.3 564.4,528.0 561.4,534.0 559.6,536.0 556.0,538.6 546.0,543.9 541.1,548.0 537.6,554.0 530.0,574.0 296.2,574.0 284.0,564.9 284.0,468.2 290.0,463.5 296.0,456.8 298.0,452.8 300.4,444.0 302.0,440.6 304.0,438.4 312.7,432.0 330.0,421.3 342.0,414.8 352.0,410.1 364.0,403.0 368.0,401.1 377.6,398.0 380.0,396.6 381.9,394.0 383.6,390.0 385.1,388.0 388.0,386.0 394.0,385.0 396.3,384.0 400.2,380.0 405.5,372.0 410.0,368.0 414.0,365.5 436.0,354.6 439.0,352.0 444.0,346.1 446.0,344.9Z" fill="#47a0b3"/>
<path d="M474.0,343.9 488.0,344.0 498.0,345.1 508.0,347.7 516.0,351.1 522.0,354.8 528.0,359.8 538.8,372.0 544.0,376.8 549.1,380.0 560.0,384.8 573.5,392.0 578.4,396.0 581.5,400.0 588.4,414.0 589.6,418.0 589.4,420.0 587.8,422.0 584.0,423.0 580.0,422.7 576.0,421.4 574.0,421.2 570.0,423.0 564.0,427.8 559.9,432.0 557.0,438.0 555.7,444.0 555.8,450.0 561.6,476.0 566.0,485.6 570.9,498.0 574.0,501.9 580.0,506.9 586.0,511.1 594.0,515.8 594.0,530.0 590.0,531.8 586.0,532.4 582.0,532.0 580.0,531.0 578.0,528.0 575.2,522.0 573.4,520.0 568.0,516.0 566.5,514.0 565.2,506.0 563.9,504.0 562.0,503.0 560.0,502.6 558.0,503.1 556.4,504.0 555.1,506.0 554.7,508.0 555.1,510.0 556.2,512.0 560.7,516.0 562.1,518.0 562.4,520.0 562.0,522.0 560.0,528.5 558.0,531.9 556.0,533.9 544.0,541.9 537.9,548.0 534.5,554.0 525.6,574.0 309.1,574.0 284.0,555.7 284.0,471.2 290.0,466.5 296.0,459.8 299.1,454.0 301.9,444.0 304.0,440.9 314.0,432.9 330.7,422.0 342.0,415.9 352.0,411.2 366.0,403.1 380.0,398.0 382.1,396.0 384.6,390.0 386.3,388.0 390.0,386.2 394.2,386.0 398.1,384.0 401.7,380.0 406.0,373.6 412.0,368.8 426.0,362.4 440.0,357.8 448.0,350.6 452.0,348.4 464.0,345.1ZM594.0,445.9 594.0,463.8 586.0,463.3 582.0,462.0 580.0,460.4 578.8,458.0 579.0,456.0 580.0,454.4 582.0,452.8Z" fill="#58b2ac"/>
<path d="M478.0,347.9 488.0,347.8 498.0,349.1 508.0,351.8 516.0,355.3 522.0,359.2 526.0,362.5 536.8,374.0 542.0,378.4 548.0,381.8 560.0,386.4 566.5,390.0 572.4,394.0 576.0,398.0 577.5,402.0 577.1,406.0 576.0,407.7 570.9,412.0 568.7,418.0 566.4,422.0 559.4,430.0 556.6,434.0 553.8,440.0 552.7,444.0 552.3,448.0 552.6,452.0 557.4,478.0 559.5,482.0 564.3,488.0 566.0,491.1 566.8,494.0 566.7,496.0 565.9,498.0 564.0,499.1 558.0,499.6 554.0,501.0 552.0,502.9 550.3,506.0 549.8,508.0 550.2,512.0 552.0,515.7 556.5,522.0 557.3,526.0 556.0,528.7 544.0,537.7 536.2,546.0 531.4,554.0 521.2,574.0 320.4,574.0 310.8,566.0 292.0,553.1 284.0,547.0 284.0,474.4 292.0,467.7 296.0,462.8 299.8,456.0 302.7,446.0 303.6,444.0 305.3,442.0 314.7,434.0 332.0,422.4 342.0,416.9 352.5,412.0 366.0,404.2 380.0,399.2 382.0,397.7 383.1,396.0 385.6,390.0 387.6,388.0 390.0,386.9 396.0,386.3 398.0,385.3 401.8,382.0 408.0,373.8 414.0,369.6 428.0,364.1 442.0,361.5 450.0,355.3 456.0,352.6 470.0,349.2Z" fill="#69c3a5"/>
<path d="M480.0,351.7 488.0,351.5 498.0,352.9 506.0,355.0 514.0,358.3 520.0,362.0 524.0,365.2 534.7,376.0 539.5,380.0 546.0,383.4 556.0,386.4 562.0,389.3 566.2,392.0 570.9,396.0 573.3,400.0 573.4,402.0 572.8,404.0 567.7,410.0 565.4,418.0 563.6,422.0 556.0,432.0 552.3,438.0 549.7,444.0 549.0,448.0 549.1,452.0 551.3,462.0 553.0,478.0 553.9,482.0 556.0,485.2 562.0,490.0 563.6,492.0 563.9,494.0 562.0,495.6 556.0,496.0 552.0,497.4 550.0,498.9 547.4,502.0 545.6,506.0 544.9,512.0 545.6,516.0 548.7,524.0 548.5,526.0 547.3,528.0 540.0,536.3 532.9,546.0 516.7,574.0 329.5,574.0 324.0,568.2 318.0,563.1 292.0,545.0 284.0,538.6 284.0,477.8 292.0,471.0 296.0,466.0 300.4,458.0 304.2,446.0 307.5,442.0 316.0,434.5 332.0,423.5 344.0,416.9 354.0,412.3 366.0,405.3 380.6,400.0 382.9,398.0 386.0,390.9 388.0,388.6 390.0,387.7 396.0,387.1 398.9,386.0 403.5,382.0 408.1,376.0 414.0,371.7 420.0,369.0 428.0,366.3 434.0,365.1 442.0,364.3 448.0,360.4 452.0,358.5 464.0,356.1Z" fill="#7ecca5"/>
<path d="M482.0,355.6 490.0,355.7 498.0,356.8 506.0,358.9 512.0,361.4 516.7,364.0 522.0,368.0 532.2,378.0 538.0,382.7 544.0,385.5 556.0,388.1 560.0,389.9 567.3,396.0 569.7,400.0 569.7,402.0 564.8,410.0 562.9,418.0 561.4,422.0 558.8,426.0 551.0,436.0 547.5,442.0 545.9,446.0 545.2,452.0 548.0,463.3 550.3,488.0 550.1,490.0 549.3,492.0 543.5,500.0 540.7,506.0 539.0,514.0 538.6,524.0 537.1,530.0 533.7,538.0 528.3,548.0 512.0,574.0 337.1,574.0 330.3,566.0 324.0,560.1 293.0,538.0 284.0,530.0 284.0,481.7 292.7,474.0 296.0,469.8 301.0,460.0 305.8,446.0 307.3,444.0 314.0,437.6 330.0,425.8 342.0,418.9 354.0,413.3 368.0,405.5 378.0,402.2 382.0,400.3 384.1,398.0 386.3,392.0 388.0,389.5 390.0,388.4 398.0,387.4 400.9,386.0 403.4,384.0 410.0,376.6 416.0,372.7 428.0,368.3 442.0,366.1 450.0,362.1 454.0,361.6 462.0,362.4 466.0,361.8 478.0,356.7Z" fill="#94d4a4"/>
<path d="M480.0,361.6 486.0,360.2 494.0,360.4 502.0,361.7 510.0,364.5 514.0,366.5 519.0,370.0 531.4,382.0 536.0,385.5 542.0,388.2 554.0,389.8 558.0,391.0 560.0,392.3 563.6,396.0 565.6,400.0 565.4,402.0 562.2,410.0 560.8,418.0 559.4,422.0 557.0,426.0 545.5,440.0 543.0,444.0 541.3,448.0 540.9,450.0 540.9,454.0 543.8,464.0 544.9,472.0 545.4,480.0 545.0,486.0 543.0,492.0 535.5,506.0 531.1,518.0 529.7,524.0 529.2,536.0 527.7,542.0 524.0,549.3 507.0,574.0 343.7,574.0 334.0,562.2 328.0,556.5 294.0,531.1 286.5,524.0 284.0,520.7 284.0,486.6 288.0,482.1 294.0,477.1 296.0,474.8 302.0,461.3 306.1,448.0 308.9,444.0 315.3,438.0 330.0,426.9 340.0,421.0 354.7,414.0 368.0,406.5 378.0,403.2 382.0,401.5 384.0,399.7 385.1,398.0 387.1,392.0 388.6,390.0 390.0,389.1 392.0,388.8 398.0,388.4 402.0,386.7 405.3,384.0 412.0,377.2 417.5,374.0 428.0,370.3 442.0,367.5 448.0,364.6 450.0,364.2 454.0,364.8 456.3,366.0 460.0,368.9 462.0,369.5 464.0,369.5 468.0,368.2Z" fill="#aadca4"/>
<path d="M486.0,365.6 492.0,364.9 498.0,365.2 504.0,366.4 510.0,368.6 514.0,370.9 518.0,373.9 530.0,386.0 536.0,390.5 542.0,392.6 552.0,392.5 556.0,393.1 558.0,394.3 559.5,396.0 561.3,400.0 558.7,418.0 557.6,422.0 555.0,426.0 545.5,436.0 540.4,442.0 537.6,446.0 536.0,450.0 535.8,454.0 536.4,458.0 540.0,468.7 541.2,474.0 541.5,478.0 541.2,482.0 540.3,486.0 538.7,490.0 531.2,504.0 522.4,522.0 521.7,526.0 523.8,536.0 523.9,540.0 522.9,544.0 520.0,549.0 510.0,563.3 501.7,574.0 349.9,574.0 338.0,559.9 330.1,552.0 294.0,523.3 288.0,516.1 285.0,510.0 284.0,506.6 284.0,496.1 284.6,494.0 287.6,488.0 292.0,483.6 294.0,482.3 296.0,482.0 300.0,483.5 300.4,482.0 299.1,478.0 299.5,474.0 306.6,450.0 308.6,446.0 316.0,438.8 333.0,426.0 344.0,419.9 356.8,414.0 368.0,407.6 382.0,402.6 385.0,400.0 386.2,398.0 388.0,392.0 389.7,390.0 392.0,389.4 398.0,389.4 402.0,388.1 405.2,386.0 412.0,379.5 418.0,375.9 428.0,372.3 440.0,369.6 448.0,366.2 450.0,366.2 453.5,368.0 456.0,372.2 458.0,374.3 460.0,375.1 464.0,375.4 470.0,373.7 480.0,368.0Z" fill="#bce4a0"/>
<path d="M446.0,367.9 448.0,367.7 450.0,368.4 451.7,370.0 455.2,376.0 458.0,378.2 460.0,379.0 464.0,379.7 468.0,379.4 472.0,378.3 484.0,372.3 490.0,370.3 496.0,369.7 504.0,370.7 510.0,373.0 514.5,376.0 518.6,380.0 528.0,390.6 536.0,397.1 540.0,399.1 542.0,399.3 548.0,398.0 552.0,397.7 554.0,398.3 555.5,400.0 556.3,404.0 556.7,416.0 555.7,422.0 552.8,426.0 536.2,442.0 533.1,446.0 531.6,450.0 530.9,456.0 531.2,460.0 532.3,464.0 536.5,474.0 537.2,478.0 537.1,480.0 536.0,484.0 534.4,488.0 520.0,515.6 517.3,522.0 516.8,528.0 518.6,538.0 518.4,542.0 517.8,544.0 515.8,548.0 510.0,556.5 502.0,567.0 496.0,574.0 356.2,574.0 334.0,549.9 298.0,518.7 294.0,514.0 290.7,508.0 289.5,504.0 289.0,500.0 289.4,496.0 290.7,492.0 292.0,490.0 294.0,488.5 300.0,488.4 302.0,487.4 303.0,486.0 303.6,484.0 301.9,476.0 302.1,472.0 307.8,450.0 310.0,446.0 314.0,441.8 334.0,426.4 345.7,420.0 358.0,414.5 368.0,408.7 372.0,407.0 380.0,404.6 384.0,402.6 386.3,400.0 389.0,392.0 390.0,390.9 392.0,390.1 398.0,390.4 402.0,389.5 406.0,387.3 412.0,381.9 418.0,378.1 428.0,374.4 440.0,371.4Z" fill="#cfec9d"/>
<path d="M444.0,371.5 446.0,370.2 448.0,370.2 450.0,372.4 453.2,378.0 456.0,380.7 460.0,382.8 466.0,383.9 470.0,383.6 474.0,382.7 488.0,376.8 494.0,375.1 500.0,374.8 506.0,375.9 510.0,378.0 512.5,380.0 524.0,394.5 527.5,398.0 532.6,402.0 536.0,404.3 540.0,406.0 548.0,406.3 550.0,407.1 552.3,410.0 554.0,416.0 554.1,420.0 553.5,422.0 552.0,424.1 542.5,432.0 533.8,440.0 530.6,444.0 527.9,450.0 526.1,458.0 525.9,462.0 526.8,466.0 530.7,476.0 531.1,478.0 530.7,482.0 527.0,492.0 516.0,514.8 513.9,520.0 512.8,526.0 513.3,538.0 512.2,544.0 509.2,550.0 503.7,558.0 496.0,567.4 489.8,574.0 363.0,574.0 354.0,565.6 334.0,544.3 304.1,516.0 300.7,512.0 298.4,508.0 296.7,502.0 297.2,498.0 298.3,496.0 304.0,491.0 305.4,488.0 305.7,484.0 304.0,476.0 304.1,472.0 309.0,450.0 311.2,446.0 314.0,443.0 324.0,435.7 330.5,430.0 334.0,427.5 346.0,420.8 358.0,415.6 370.0,408.8 384.0,403.9 386.3,402.0 387.6,400.0 390.1,392.0 392.0,391.1 398.0,391.5 404.0,390.3 407.8,388.0 414.0,382.8 418.0,380.5 428.0,376.6 440.0,373.6Z" fill="#e1f399"/>
<path d="M442.0,375.7 446.0,375.0 448.0,376.5 452.4,382.0 456.0,384.8 460.0,386.7 466.0,388.1 470.0,388.2 476.0,387.3 490.0,382.6 496.0,381.1 502.0,380.9 506.0,382.0 510.2,386.0 517.7,398.0 522.0,402.0 536.0,409.2 546.0,412.1 548.0,413.3 550.1,416.0 550.7,420.0 549.9,422.0 531.4,438.0 528.0,442.2 525.2,448.0 522.2,458.0 521.4,462.0 522.0,468.0 524.1,478.0 523.9,484.0 520.3,496.0 512.4,514.0 510.3,520.0 509.1,526.0 508.4,538.0 506.8,544.0 503.8,550.0 498.0,558.1 490.0,567.3 482.9,574.0 370.7,574.0 362.0,567.4 354.0,559.8 311.0,514.0 306.8,508.0 305.5,504.0 305.4,502.0 306.1,498.0 308.3,492.0 308.5,488.0 306.1,478.0 305.8,474.0 308.7,456.0 310.1,450.0 312.0,446.6 314.3,444.0 324.0,437.2 331.9,430.0 336.0,427.3 346.0,421.8 359.5,416.0 370.0,409.8 382.0,406.0 386.0,404.0 388.0,402.0 389.1,400.0 390.7,394.0 392.0,392.4 400.0,392.8 404.0,392.1 408.0,390.2 414.0,385.5 420.0,382.3 430.0,378.8Z" fill="#ecf7a1"/>
<path d="M432.0,381.7 440.0,380.3 444.0,380.6 446.0,381.7 451.1,386.0 456.0,389.2 460.0,391.0 466.0,392.6 474.0,392.8 492.0,389.8 498.2,390.0 502.0,391.9 504.0,394.2 506.0,398.0 510.0,408.3 512.0,410.9 514.0,411.2 522.0,410.0 528.0,411.0 539.8,416.0 542.5,418.0 543.2,420.0 542.5,422.0 541.0,424.0 527.0,438.0 523.4,444.0 518.1,462.0 518.4,482.0 517.4,490.0 514.5,500.0 506.6,520.0 503.0,540.0 500.5,546.0 496.8,552.0 490.4,560.0 484.0,566.7 475.0,574.0 380.5,574.0 374.0,570.5 366.0,565.1 360.0,560.1 354.0,554.3 330.4,528.0 315.8,508.0 313.8,504.0 313.1,500.0 314.3,492.0 310.0,484.0 307.8,478.0 307.8,472.0 310.7,452.0 312.2,448.0 314.0,445.6 318.0,442.4 325.0,438.0 331.0,432.0 334.0,429.6 346.0,422.8 360.0,417.0 371.9,410.0 386.0,405.5 388.2,404.0 389.8,402.0 390.9,400.0 392.0,395.7 394.0,394.1 402.0,394.6 406.0,393.9 409.6,392.0 418.0,386.3 424.0,384.0Z" fill="#f4faad"/>
<path d="M436.0,385.9 440.0,386.0 444.0,387.3 456.0,393.9 464.0,396.9 472.0,398.0 486.5,398.0 492.0,399.1 496.0,401.9 497.6,404.0 502.9,416.0 505.9,420.0 508.0,421.4 510.0,422.1 512.6,422.0 516.0,420.3 520.0,417.1 522.0,416.2 526.0,416.0 530.0,417.4 532.0,418.9 533.0,420.0 533.7,422.0 533.4,424.0 530.9,428.0 523.5,436.0 520.4,442.0 514.3,468.0 513.4,476.0 513.0,488.0 511.1,498.0 503.5,518.0 499.8,534.0 497.7,540.0 493.5,548.0 485.8,558.0 476.0,567.2 465.5,574.0 395.9,574.0 386.0,570.7 378.0,567.2 370.0,562.6 364.0,558.2 357.2,552.0 349.7,544.0 339.6,532.0 332.0,522.0 327.4,514.0 325.8,508.0 326.2,504.0 329.4,496.0 329.0,492.0 327.8,490.0 325.2,488.0 316.0,485.5 314.0,484.3 312.0,482.5 310.0,479.2 309.7,474.0 311.9,452.0 313.4,448.0 316.0,445.0 326.0,438.9 330.4,434.0 334.0,430.8 344.0,424.9 350.0,422.0 360.0,418.3 372.0,411.0 376.0,409.5 384.0,407.7 388.0,406.0 390.7,404.0 392.5,402.0 394.0,399.1 396.0,397.3 398.0,397.2 404.0,398.0 408.0,396.5 420.0,389.5 428.0,387.3Z" fill="#fcfeba"/>
<path d="M424.0,393.8 436.0,392.8 442.0,393.1 446.0,394.3 458.0,399.6 464.0,401.7 482.0,404.7 487.0,406.0 490.0,407.6 492.0,409.7 498.0,420.0 502.0,424.4 508.0,428.0 515.5,430.0 517.0,432.0 515.0,454.0 508.7,476.0 508.5,490.0 507.3,498.0 505.4,504.0 499.6,518.0 495.4,532.0 492.2,540.0 488.8,546.0 484.5,552.0 479.1,558.0 474.0,562.5 468.0,566.8 462.0,570.0 456.0,572.4 450.1,574.0 423.8,574.0 412.0,571.6 394.0,567.4 384.0,564.4 376.0,560.9 368.0,556.0 360.8,550.0 353.3,542.0 343.9,530.0 336.0,518.0 334.1,514.0 333.2,510.0 333.5,506.0 336.4,496.0 336.3,494.0 334.7,490.0 332.0,486.8 328.0,484.1 324.0,482.8 318.0,481.7 314.2,480.0 312.7,478.0 312.3,476.0 312.9,454.0 313.7,450.0 314.7,448.0 318.0,444.9 327.0,440.0 331.7,434.0 334.0,432.0 348.0,423.9 362.0,418.7 370.0,413.2 374.0,411.2 387.2,408.0 396.0,403.8 402.0,403.7 404.0,403.1 418.0,395.4ZM522.0,424.0 524.0,423.7 524.2,424.0 524.0,424.4 522.0,424.7Z" fill="#fffab6"/>
<path d="M420.0,399.9 424.0,399.3 432.0,399.3 438.0,398.5 444.0,398.8 450.0,400.6 462.0,405.9 476.6,410.0 481.6,412.0 484.8,414.0 487.0,416.0 493.3,424.0 497.1,428.0 508.0,436.0 510.7,440.0 512.0,444.2 512.6,452.0 511.7,458.0 510.0,462.3 504.9,472.0 504.0,476.0 504.4,490.0 503.5,498.0 501.6,504.0 495.2,518.0 490.0,531.9 487.2,538.0 483.9,544.0 479.6,550.0 474.0,556.0 470.0,559.4 466.0,562.1 460.0,565.4 454.0,567.6 448.0,568.9 440.0,569.6 430.0,568.9 390.0,560.5 378.0,556.6 372.0,553.4 368.0,550.7 360.0,543.3 352.6,534.0 346.6,524.0 341.1,512.0 340.5,508.0 342.0,505.0 344.0,504.3 350.0,506.3 352.0,505.9 353.4,504.0 353.4,502.0 352.3,500.0 346.0,494.4 338.7,486.0 334.0,482.0 328.0,478.9 320.0,477.0 318.0,476.0 316.5,474.0 315.9,472.0 314.3,456.0 314.6,452.0 316.0,448.0 318.6,446.0 326.0,442.6 328.0,441.3 332.0,435.4 336.0,431.8 350.0,424.1 362.0,420.2 370.6,414.0 374.5,412.0 378.0,410.9 386.0,409.7 396.0,406.9 404.0,406.1 416.0,401.1Z" fill="#fff0a6"/>
<path d="M422.0,403.9 440.0,402.8 446.0,403.4 450.0,404.7 458.0,408.7 470.0,413.3 475.7,416.0 482.0,420.7 494.0,434.0 504.8,442.0 508.0,446.5 509.6,452.0 509.6,456.0 509.0,458.0 508.0,460.0 501.6,468.0 500.0,472.0 499.4,478.0 500.4,492.0 500.1,496.0 499.1,500.0 497.5,504.0 491.0,516.0 484.0,532.1 480.0,540.0 474.0,548.6 470.0,552.8 466.0,556.1 458.0,560.7 454.0,562.2 448.0,563.6 442.0,564.1 434.0,563.6 426.1,562.0 408.0,557.3 386.0,553.8 380.0,552.1 376.0,550.3 369.3,546.0 364.9,542.0 359.9,536.0 356.2,530.0 353.8,524.0 353.4,520.0 353.7,518.0 354.4,516.0 358.5,510.0 359.9,506.0 359.6,502.0 357.8,498.0 352.5,492.0 336.0,477.7 330.0,473.9 324.0,471.6 321.2,470.0 320.0,468.8 318.0,464.7 316.4,458.0 316.3,452.0 316.9,450.0 318.0,448.2 328.0,443.5 330.0,441.8 332.9,436.0 334.8,434.0 338.0,431.7 348.0,426.2 352.0,424.5 360.0,422.6 364.0,421.1 372.0,414.4 376.0,412.4 394.0,409.5 404.0,408.6 416.0,405.1Z" fill="#fee695"/>
<path d="M420.0,408.0 440.0,406.5 446.0,407.0 450.0,408.3 466.0,416.2 472.0,419.8 476.0,423.1 480.4,428.0 490.0,441.1 494.0,444.4 502.0,448.9 504.0,450.9 505.5,454.0 505.7,456.0 504.2,458.0 498.0,460.8 496.0,462.6 495.2,466.0 494.8,472.0 495.1,480.0 496.2,492.0 495.6,498.0 494.0,501.7 485.1,516.0 474.9,538.0 470.0,545.4 464.0,551.3 458.0,555.1 450.0,557.9 442.0,558.7 434.0,557.8 408.0,550.1 402.0,549.2 388.0,548.2 382.0,547.1 376.0,544.6 372.0,542.0 368.0,538.0 365.2,534.0 363.0,530.0 361.6,526.0 361.1,522.0 361.3,520.0 362.1,518.0 364.8,514.0 366.3,510.0 365.4,504.0 362.0,496.9 356.0,489.5 340.0,475.5 330.7,468.0 324.0,465.1 322.0,463.5 320.0,460.5 318.6,456.0 318.6,452.0 319.6,450.0 322.0,448.4 328.0,445.7 330.0,444.2 331.7,442.0 334.4,436.0 336.7,434.0 343.2,430.0 351.2,426.0 364.0,423.3 366.2,422.0 371.6,416.0 374.7,414.0 380.0,412.4 404.0,410.9Z" fill="#feda86"/>
<path d="M440.0,409.9 446.0,410.3 450.0,411.5 461.6,418.0 467.4,422.0 471.7,426.0 477.7,434.0 486.7,452.0 487.9,456.0 490.1,472.0 491.0,494.0 490.8,496.0 490.0,497.9 484.8,504.0 481.3,510.0 471.0,534.0 466.1,542.0 462.0,546.3 456.0,550.4 450.0,552.6 444.0,553.4 438.0,553.0 433.4,552.0 416.0,545.3 406.0,542.4 398.0,541.3 384.0,541.2 380.0,540.1 376.4,538.0 374.0,535.5 372.2,532.0 371.7,530.0 372.0,527.1 374.0,524.0 382.0,519.2 382.7,518.0 382.8,516.0 381.4,514.0 374.0,507.8 364.0,493.2 358.0,486.2 351.4,480.0 334.0,465.4 325.2,460.0 323.4,458.0 322.4,456.0 322.1,454.0 322.9,452.0 330.0,446.9 332.0,444.6 334.9,438.0 336.4,436.0 338.9,434.0 346.0,429.9 352.0,427.1 364.0,425.9 368.0,424.4 371.4,418.0 373.4,416.0 376.0,414.5 382.0,413.3 404.0,413.3 418.0,411.6Z" fill="#feca79"/>
<path d="M436.0,414.0 444.0,413.2 450.0,414.5 455.8,418.0 461.1,422.0 468.0,428.8 474.2,438.0 481.6,454.0 484.5,464.0 486.0,474.0 485.9,482.0 484.5,488.0 480.9,494.0 473.2,512.0 467.7,528.0 465.1,534.0 461.1,540.0 456.8,544.0 452.0,546.7 446.0,548.2 440.0,548.1 434.0,546.6 420.0,540.6 394.8,532.0 391.5,530.0 390.3,528.0 389.5,520.0 388.7,516.0 388.0,514.0 386.4,512.0 376.0,503.5 364.0,487.6 359.0,482.0 352.4,476.0 330.7,458.0 329.3,456.0 328.9,454.0 329.5,452.0 334.0,444.8 336.8,438.0 338.7,436.0 345.1,432.0 352.0,428.8 356.0,428.3 366.0,428.9 370.0,428.4 372.5,426.0 372.1,420.0 373.1,418.0 375.3,416.0 378.0,414.8 384.0,414.3 404.0,415.7 416.0,415.0 428.0,415.0Z" fill="#fdbb6c"/>
<path d="M378.0,415.9 384.0,415.5 400.0,418.1 414.0,418.1 428.0,419.4 432.0,419.0 442.0,416.8 448.0,416.9 450.4,418.0 453.2,420.0 459.6,426.0 464.7,432.0 468.8,438.0 475.1,450.0 479.4,460.0 481.8,470.0 482.3,476.0 482.1,480.0 481.2,484.0 479.6,488.0 474.0,498.5 467.1,510.0 462.6,526.0 460.2,532.0 456.0,537.9 452.0,541.0 446.0,543.0 442.0,543.1 438.0,542.4 424.0,536.8 412.0,532.7 400.0,527.4 396.0,523.7 389.5,512.0 377.2,500.0 362.0,479.8 356.0,474.0 340.0,461.3 335.1,456.0 334.3,454.0 334.5,450.0 337.8,440.0 340.0,437.2 344.8,434.0 352.0,431.0 356.0,430.7 368.0,432.7 372.0,431.8 374.0,430.0 375.1,426.0 373.7,422.0 373.6,420.0 374.7,418.0Z" fill="#fcaa5f"/>
<path d="M378.0,417.1 380.0,416.6 384.0,416.8 400.0,421.0 414.0,421.5 428.0,424.8 432.0,424.5 444.0,421.0 448.0,421.5 452.0,424.4 457.1,430.0 462.0,436.4 468.0,445.5 473.8,456.0 476.9,464.0 478.6,472.0 478.4,480.0 476.7,486.0 472.5,494.0 470.0,497.4 463.3,504.0 461.9,506.0 460.3,510.0 457.7,522.0 455.9,528.0 453.8,532.0 449.9,536.0 446.0,537.7 444.0,538.0 440.0,537.5 430.0,533.6 412.0,528.6 406.0,526.1 402.0,523.9 398.0,520.5 390.4,510.0 379.3,498.0 363.9,476.0 357.7,470.0 342.0,458.1 338.8,454.0 338.0,452.0 337.8,448.0 339.2,442.0 340.2,440.0 342.0,438.1 345.3,436.0 350.0,434.1 354.0,433.6 368.0,437.0 372.0,436.5 374.0,435.5 376.0,433.1 376.9,430.0 376.7,426.0 376.2,424.0 374.9,422.0 374.9,420.0 376.0,418.3Z" fill="#fa9656"/>
<path d="M380.0,417.8 383.1,418.0 386.0,418.9 396.0,423.7 400.0,425.1 404.0,425.4 410.0,425.2 414.4,426.0 417.1,428.0 418.5,430.0 419.2,432.0 419.2,436.0 420.0,437.3 422.0,437.3 424.0,436.6 440.0,429.7 444.0,428.9 446.0,429.2 450.0,431.5 456.0,437.7 464.0,447.6 469.5,456.0 473.3,464.0 474.9,470.0 475.3,478.0 474.1,484.0 471.4,490.0 468.0,494.5 464.0,497.4 459.0,500.0 457.2,502.0 454.8,508.0 450.7,524.0 448.8,528.0 446.0,531.1 444.0,532.0 442.0,531.9 434.0,529.0 416.0,526.1 408.0,523.5 402.0,520.2 398.0,516.5 382.5,498.0 377.2,490.0 369.4,476.0 365.1,470.0 360.0,465.2 346.0,456.0 342.5,452.0 341.2,448.0 341.4,444.0 342.0,442.2 344.0,439.9 348.0,437.8 352.0,437.3 354.0,437.6 366.0,441.8 370.0,442.6 374.0,442.1 377.7,440.0 379.2,438.0 379.8,436.0 379.9,432.0 379.0,428.0 376.0,422.0 376.3,420.0 378.0,418.4Z" fill="#f7814c"/>
<path d="M378.0,420.0 380.0,419.4 383.8,420.0 387.2,422.0 389.3,424.0 390.6,426.0 391.2,428.0 390.9,430.0 390.0,431.6 388.0,432.5 386.0,431.9 384.0,430.5 378.0,423.4 377.3,422.0ZM440.0,441.8 444.0,441.0 446.0,441.1 452.0,443.6 460.0,450.3 466.0,457.6 470.0,465.0 471.8,472.0 471.7,480.0 470.1,486.0 468.0,489.8 466.0,492.1 462.0,494.4 456.9,496.0 454.3,498.0 451.9,502.0 446.0,517.4 444.0,520.5 442.0,522.2 438.0,523.5 424.0,523.8 416.0,522.8 408.0,520.3 402.0,516.9 398.0,513.4 390.0,504.0 384.1,496.0 377.7,484.0 371.4,466.0 366.8,456.0 368.0,454.9 371.3,454.0 382.0,452.3 386.0,452.2 390.0,453.0 400.0,456.8 406.0,457.7 411.4,456.0 424.3,450.0ZM348.0,443.7 350.0,443.1 352.0,443.3 354.2,444.0 357.2,446.0 362.9,452.0 362.2,454.0 356.0,453.4 352.0,452.2 350.0,451.1 347.2,448.0 346.7,446.0Z" fill="#f46d43"/>
<path d="M440.0,451.6 446.0,450.5 452.0,451.8 458.0,455.5 464.0,461.8 467.3,468.0 468.5,474.0 468.0,481.6 466.0,487.1 463.7,490.0 462.0,491.0 456.0,492.8 453.8,494.0 451.5,496.0 448.7,500.0 442.0,512.9 439.1,516.0 436.0,517.9 428.0,519.8 420.0,520.0 412.0,518.8 406.0,516.5 400.0,512.5 395.5,508.0 389.4,500.0 384.9,492.0 381.6,484.0 380.3,478.0 380.5,472.0 382.0,468.2 384.0,465.9 388.0,463.9 392.0,463.2 404.0,462.8 409.2,462.0Z" fill="#ea5e47"/>
<path d="M442.0,458.0 448.0,457.8 452.0,458.7 458.0,462.2 462.0,466.5 463.8,470.0 464.6,476.0 463.8,482.0 462.0,486.0 460.0,487.6 454.0,490.0 450.0,492.7 447.2,496.0 441.2,506.0 438.2,510.0 436.0,512.1 432.0,514.5 428.0,515.8 424.0,516.5 418.0,516.7 414.0,516.3 406.0,513.8 400.0,510.0 396.0,506.0 393.0,502.0 389.6,496.0 387.2,490.0 385.6,484.0 385.4,480.0 386.3,476.0 388.0,473.2 392.0,470.1 396.0,468.7 410.0,465.9 426.0,461.5Z" fill="#e1504b"/>
<path d="M428.0,465.8 438.0,464.5 444.0,464.2 448.0,464.6 452.0,465.9 456.0,468.7 458.3,472.0 459.1,476.0 458.0,480.8 455.2,484.0 448.0,489.4 444.3,494.0 436.2,506.0 434.0,508.2 430.0,510.8 424.0,512.9 416.0,513.5 410.0,512.6 404.0,510.3 400.0,507.6 396.6,504.0 394.0,500.0 392.2,496.0 390.4,490.0 389.8,486.0 390.1,482.0 391.8,478.0 393.6,476.0 396.0,474.3 400.0,472.5Z" fill="#d7414e"/>
<path d="M418.0,472.0 430.0,470.4 440.0,471.0 443.7,472.0 446.9,474.0 448.3,476.0 448.5,478.0 447.1,482.0 438.0,497.1 434.5,502.0 432.0,504.5 428.0,507.4 422.0,509.7 416.0,510.4 410.0,509.8 406.0,508.6 402.0,506.6 400.0,505.0 397.4,502.0 395.4,498.0 394.2,494.0 393.6,490.0 393.8,486.0 394.4,484.0 396.0,481.0 400.0,477.5 406.0,474.9Z" fill="#c72e4c"/>
<path d="M420.0,476.0 426.0,475.6 430.6,476.0 435.7,478.0 437.6,480.0 438.3,482.0 438.2,486.0 436.2,492.0 433.9,496.0 430.8,500.0 428.0,502.5 424.0,504.8 420.0,506.3 414.0,507.1 410.0,506.8 406.0,505.9 402.0,503.9 399.9,502.0 398.8,500.0 397.2,494.0 397.6,488.0 399.7,484.0 402.0,481.8 406.0,479.5 412.0,477.5Z" fill="#b61b48"/>
<path d="M414.0,482.0 422.0,481.0 426.0,481.5 428.0,482.2 430.3,484.0 431.3,486.0 431.6,488.0 430.6,492.0 428.0,496.0 426.0,498.0 423.2,500.0 419.0,502.0 412.0,503.3 408.0,503.0 404.8,502.0 402.3,500.0 401.4,498.0 400.9,494.0 401.8,490.0 404.0,486.8 406.0,485.2 410.0,483.2Z" fill="#a40844"/>
<g transform="translate(280,280) scale(0.25214)" fill="none" stroke="#000" stroke-width="5"><path d="M819.7,748.0C818.9,750.2 818.3,756.9 814.7,761.1C811.2,765.4 805.3,769.7 798.4,773.3C791.5,776.9 782.4,780.3 773.2,782.7C763.9,785.1 753.0,787.0 742.9,787.9C732.7,788.8 721.7,788.8 712.2,788.0C702.6,787.3 693.1,785.5 685.7,783.2C678.2,780.8 671.7,777.6 667.5,774.0C663.2,770.5 660.7,766.2 660.3,762.0C659.9,757.8 661.7,753.1 665.3,748.9C668.8,744.6 674.7,740.3 681.6,736.7C688.5,733.1 697.6,729.7 706.8,727.3C716.1,724.9 727.0,723.0 737.1,722.1C747.3,721.2 758.3,721.2 767.8,722.0C777.4,722.7 786.9,724.5 794.3,726.8C801.8,729.2 808.3,732.4 812.5,736.0C816.8,739.5 818.5,746.0 819.7,748.0M60.0,805.0C71.7,799.5 106.7,777.0 130.0,772.0C153.3,767.0 178.3,768.7 200.0,775.0C221.7,781.3 241.7,797.5 260.0,810.0C278.3,822.5 295.0,839.7 310.0,850.0C325.0,860.3 338.0,870.3 350.0,872.0C362.0,873.7 375.0,868.7 382.0,860.0C389.0,851.3 384.0,835.0 392.0,820.0C400.0,805.0 412.0,786.3 430.0,770.0C448.0,753.7 471.7,736.7 500.0,722.0C528.3,707.3 566.7,693.7 600.0,682.0C633.3,670.3 666.7,659.7 700.0,652.0C733.3,644.3 767.5,636.7 800.0,636.0C832.5,635.3 879.2,646.0 895.0,648.0M80.0,840.0C91.7,839.2 133.3,831.7 150.0,835.0C166.7,838.3 176.7,851.7 180.0,860.0C183.3,868.3 180.0,881.7 170.0,885.0C160.0,888.3 134.2,884.2 120.0,880.0C105.8,875.8 91.7,866.7 85.0,860.0C78.3,853.3 80.8,843.3 80.0,840.0M130.0,900.0C141.7,906.7 171.7,928.3 200.0,940.0C228.3,951.7 266.7,962.5 300.0,970.0C333.3,977.5 376.7,981.7 400.0,985.0C423.3,988.3 428.3,999.2 440.0,990.0C451.7,980.8 456.7,948.0 470.0,930.0C483.3,912.0 498.3,892.0 520.0,882.0C541.7,872.0 570.0,870.3 600.0,870.0C630.0,869.7 666.7,880.0 700.0,880.0C733.3,880.0 766.7,876.7 800.0,870.0C833.3,863.3 866.7,853.3 900.0,840.0C933.3,826.7 966.7,812.5 1000.0,790.0C1033.3,767.5 1073.3,726.3 1100.0,705.0C1126.7,683.7 1143.3,671.2 1160.0,662.0C1176.7,652.8 1193.3,652.0 1200.0,650.0M905.0,655.0C904.2,651.7 892.5,643.8 900.0,635.0C907.5,626.2 925.0,610.8 950.0,602.0C975.0,593.2 1016.7,586.3 1050.0,582.0C1083.3,577.7 1125.0,574.7 1150.0,576.0C1175.0,577.3 1200.0,582.7 1200.0,590.0C1200.0,597.3 1175.0,610.0 1150.0,620.0C1125.0,630.0 1083.3,642.5 1050.0,650.0C1016.7,657.5 974.2,664.2 950.0,665.0C925.8,665.8 912.5,656.7 905.0,655.0M650.0,290.0C658.3,285.0 675.0,269.2 700.0,260.0C725.0,250.8 766.7,238.3 800.0,235.0C833.3,231.7 875.0,232.5 900.0,240.0C925.0,247.5 933.3,266.7 950.0,280.0C966.7,293.3 981.7,308.3 1000.0,320.0C1018.3,331.7 1040.0,342.5 1060.0,350.0C1080.0,357.5 1106.7,360.0 1120.0,365.0C1133.3,370.0 1136.7,377.5 1140.0,380.0M610.0,330.0C625.0,323.3 668.3,300.8 700.0,290.0C731.7,279.2 766.7,268.3 800.0,265.0C833.3,261.7 873.3,262.5 900.0,270.0C926.7,277.5 940.0,296.7 960.0,310.0C980.0,323.3 1000.0,338.3 1020.0,350.0C1040.0,361.7 1061.7,372.5 1080.0,380.0C1098.3,387.5 1126.7,391.3 1130.0,395.0C1133.3,398.7 1121.7,404.2 1100.0,402.0C1078.3,399.8 1033.3,392.0 1000.0,382.0C966.7,372.0 933.3,352.0 900.0,342.0C866.7,332.0 833.3,324.0 800.0,322.0C766.7,320.0 730.0,326.2 700.0,330.0C670.0,333.8 635.0,345.0 620.0,345.0C605.0,345.0 611.7,332.5 610.0,330.0M560.0,352.0C575.0,348.7 610.0,336.0 650.0,332.0C690.0,328.0 758.3,325.0 800.0,328.0C841.7,331.0 866.7,340.5 900.0,350.0C933.3,359.5 976.7,377.7 1000.0,385.0C1023.3,392.3 1033.3,392.5 1040.0,394.0M450.0,440.0C458.3,433.3 481.7,410.8 500.0,400.0C518.3,389.2 535.0,382.5 560.0,375.0C585.0,367.5 610.0,359.2 650.0,355.0C690.0,350.8 758.3,347.8 800.0,350.0C841.7,352.2 866.7,361.0 900.0,368.0C933.3,375.0 983.3,388.0 1000.0,392.0M750.0,130.0C766.7,129.7 820.0,127.0 850.0,128.0C880.0,129.0 916.7,134.7 930.0,136.0M1150.0,650.0C1146.7,655.0 1130.0,670.0 1130.0,680.0C1130.0,690.0 1141.7,706.7 1150.0,710.0C1158.3,713.3 1175.0,701.7 1180.0,700.0M1140.0,760.0C1136.7,765.0 1118.3,781.7 1120.0,790.0C1121.7,798.3 1145.0,806.7 1150.0,810.0M830.0,95.0C838.3,93.3 864.2,88.8 880.0,85.0C895.8,81.2 917.5,74.2 925.0,72.0"/><path stroke-dasharray="22,14" d="M865.0,180.0C864.3,181.1 863.5,184.8 860.8,186.9C858.1,189.0 853.9,191.1 848.9,192.7C843.9,194.4 837.5,195.8 831.0,196.6C824.6,197.5 817.0,198.0 810.0,198.0C803.0,198.0 795.4,197.5 789.0,196.6C782.5,195.8 776.1,194.4 771.1,192.7C766.1,191.1 761.9,189.0 759.2,186.9C756.5,184.8 755.0,182.3 755.0,180.0C755.0,177.7 756.5,175.2 759.2,173.1C761.9,171.0 766.1,168.9 771.1,167.3C776.1,165.6 782.5,164.2 789.0,163.4C795.4,162.5 803.0,162.0 810.0,162.0C817.0,162.0 824.6,162.5 831.0,163.4C837.5,164.2 843.9,165.6 848.9,167.3C853.9,168.9 858.1,171.0 860.8,173.1C863.5,175.2 864.3,178.9 865.0,180.0M480.0,410.0C493.3,405.0 523.3,387.5 560.0,380.0C596.7,372.5 651.7,365.8 700.0,365.0C748.3,364.2 800.0,369.2 850.0,375.0C900.0,380.8 958.3,393.3 1000.0,400.0C1041.7,406.7 1073.3,412.5 1100.0,415.0C1126.7,417.5 1150.0,415.0 1160.0,415.0M400.0,480.0C416.7,471.7 458.3,444.2 500.0,430.0C541.7,415.8 600.0,402.5 650.0,395.0C700.0,387.5 750.0,384.2 800.0,385.0C850.0,385.8 900.0,394.2 950.0,400.0C1000.0,405.8 1075.0,416.7 1100.0,420.0M900.0,535.0C910.0,519.2 943.3,458.3 960.0,440.0C976.7,421.7 1001.7,430.8 1000.0,425.0C998.3,419.2 983.3,409.8 950.0,405.0C916.7,400.2 858.3,393.5 800.0,396.0C741.7,398.5 658.3,407.7 600.0,420.0C541.7,432.3 484.7,456.3 450.0,470.0C415.3,483.7 400.3,490.3 392.0,502.0C383.7,513.7 392.0,529.5 400.0,540.0C408.0,550.5 420.0,559.2 440.0,565.0C460.0,570.8 485.0,575.8 520.0,575.0C555.0,574.2 603.3,565.0 650.0,560.0C696.7,555.0 758.3,549.2 800.0,545.0C841.7,540.8 883.3,536.7 900.0,535.0M60.0,640.0C66.7,636.7 76.7,628.3 100.0,620.0C123.3,611.7 166.7,603.3 200.0,590.0C233.3,576.7 270.0,555.0 300.0,540.0C330.0,525.0 366.7,506.7 380.0,500.0M90.0,665.0C100.0,660.8 123.3,652.5 150.0,640.0C176.7,627.5 216.7,608.3 250.0,590.0C283.3,571.7 333.3,540.0 350.0,530.0M520.0,990.0C533.3,989.2 570.0,985.0 600.0,985.0C630.0,985.0 666.7,987.5 700.0,990.0C733.3,992.5 771.7,995.0 800.0,1000.0C828.3,1005.0 850.0,1014.7 870.0,1020.0C890.0,1025.3 911.7,1030.0 920.0,1032.0M1000.0,1000.0C1016.7,990.0 1075.0,951.7 1100.0,940.0C1125.0,928.3 1141.7,931.7 1150.0,930.0M170.0,1040.0C171.7,1047.5 178.3,1077.5 180.0,1085.0M210.0,1030.0C211.0,1041.7 215.0,1088.3 216.0,1100.0M1150.0,850.0C1146.7,855.0 1128.3,871.7 1130.0,880.0C1131.7,888.3 1155.0,896.7 1160.0,900.0M1120.0,930.0C1123.3,933.3 1136.7,946.7 1140.0,950.0M600.0,1050.0C606.7,1047.0 626.7,1030.7 640.0,1032.0C653.3,1033.3 673.3,1053.7 680.0,1058.0M760.0,1040.0C766.7,1044.2 793.3,1060.8 800.0,1065.0M880.0,1050.0C888.3,1054.7 921.7,1073.3 930.0,1078.0"/></g>
</g>
</g>
<use href="#axes"/>
<text x="145.3" y="141.2" text-anchor="end" font-family='"Liberation Sans", sans-serif' font-size="35" fill="#000">12<tspan font-size="27" dy="-17.3">o</tspan><tspan dy="17.3">N</tspan></text>
<text x="145.3" y="259.4" text-anchor="end" font-family='"Liberation Sans", sans-serif' font-size="35" fill="#000">9<tspan font-size="27" dy="-17.3">o</tspan><tspan dy="17.3">N</tspan></text>
<text x="145.3" y="377.5" text-anchor="end" font-family='"Liberation Sans", sans-serif' font-size="35" fill="#000">6<tspan font-size="27" dy="-17.3">o</tspan><tspan dy="17.3">N</tspan></text>
<text x="145.3" y="495.7" text-anchor="end" font-family='"Liberation Sans", sans-serif' font-size="35" fill="#000">3<tspan font-size="27" dy="-17.3">o</tspan><tspan dy="17.3">N</tspan></text>
<text x="145.3" y="613.8" text-anchor="end" font-family='"Liberation Sans", sans-serif' font-size="35" fill="#000">0<tspan font-size="27" dy="-17.3">o</tspan><tspan dy="17.3"></tspan></text>
<text x="145.3" y="732.0" text-anchor="end" font-family='"Liberation Sans", sans-serif' font-size="35" fill="#000">3<tspan font-size="27" dy="-17.3">o</tspan><tspan dy="17.3">S</tspan></text>
<text x="165.0" y="769.5" text-anchor="middle" font-family='"Liberation Sans", sans-serif' font-size="35" fill="#000">115<tspan font-size="27" dy="-17.3">o</tspan><tspan dy="17.3">E</tspan></text>
<text x="361.7" y="769.5" text-anchor="middle" font-family='"Liberation Sans", sans-serif' font-size="35" fill="#000">120<tspan font-size="27" dy="-17.3">o</tspan><tspan dy="17.3">E</tspan></text>
<text x="558.4" y="769.5" text-anchor="middle" font-family='"Liberation Sans", sans-serif' font-size="35" fill="#000">125<tspan font-size="27" dy="-17.3">o</tspan><tspan dy="17.3">E</tspan></text>
<text x="755.1" y="769.5" text-anchor="middle" font-family='"Liberation Sans", sans-serif' font-size="35" fill="#000">130<tspan font-size="27" dy="-17.3">o</tspan><tspan dy="17.3">E</tspan></text>
<text x="951.8" y="769.5" text-anchor="middle" font-family='"Liberation Sans", sans-serif' font-size="35" fill="#000">135<tspan font-size="27" dy="-17.3">o</tspan><tspan dy="17.3">E</tspan></text>
<text x="1148.5" y="769.5" text-anchor="middle" font-family='"Liberation Sans", sans-serif' font-size="35" fill="#000">140<tspan font-size="27" dy="-17.3">o</tspan><tspan dy="17.3">E</tspan></text>
<rect x="190.4" y="154.30" width="19.5" height="6.60" fill="#a40844"/>
<rect x="190.4" y="160.50" width="19.5" height="6.60" fill="#b61b48"/>
<rect x="190.4" y="166.69" width="19.5" height="6.60" fill="#c72e4c"/>
<rect x="190.4" y="172.89" width="19.5" height="6.60" fill="#d7414e"/>
<rect x="190.4" y="179.09" width="19.5" height="6.60" fill="#e1504b"/>
<rect x="190.4" y="185.28" width="19.5" height="6.60" fill="#ea5e47"/>
<rect x="190.4" y="191.48" width="19.5" height="6.60" fill="#f46d43"/>
<rect x="190.4" y="197.68" width="19.5" height="6.60" fill="#f7814c"/>
<rect x="190.4" y="203.88" width="19.5" height="6.60" fill="#fa9656"/>
<rect x="190.4" y="210.07" width="19.5" height="6.60" fill="#fcaa5f"/>
<rect x="190.4" y="216.27" width="19.5" height="6.60" fill="#fdbb6c"/>
<rect x="190.4" y="222.47" width="19.5" height="6.60" fill="#feca79"/>
<rect x="190.4" y="228.66" width="19.5" height="6.60" fill="#feda86"/>
<rect x="190.4" y="234.86" width="19.5" height="6.60" fill="#fee695"/>
<rect x="190.4" y="241.06" width="19.5" height="6.60" fill="#fff0a6"/>
<rect x="190.4" y="247.25" width="19.5" height="6.60" fill="#fffab6"/>
<rect x="190.4" y="253.45" width="19.5" height="6.60" fill="#fcfeba"/>
<rect x="190.4" y="259.65" width="19.5" height="6.60" fill="#f4faad"/>
<rect x="190.4" y="265.84" width="19.5" height="6.60" fill="#ecf7a1"/>
<rect x="190.4" y="272.04" width="19.5" height="6.60" fill="#e1f399"/>
<rect x="190.4" y="278.24" width="19.5" height="6.60" fill="#cfec9d"/>
<rect x="190.4" y="284.43" width="19.5" height="6.60" fill="#bce4a0"/>
<rect x="190.4" y="290.63" width="19.5" height="6.60" fill="#aadca4"/>
<rect x="190.4" y="296.83" width="19.5" height="6.60" fill="#94d4a4"/>
<rect x="190.4" y="303.03" width="19.5" height="6.60" fill="#7ecca5"/>
<rect x="190.4" y="309.22" width="19.5" height="6.60" fill="#69c3a5"/>
<rect x="190.4" y="315.42" width="19.5" height="6.60" fill="#58b2ac"/>
<rect x="190.4" y="321.62" width="19.5" height="6.60" fill="#47a0b3"/>
<rect x="190.4" y="327.81" width="19.5" height="6.60" fill="#378ebb"/>
<rect x="190.4" y="334.01" width="19.5" height="6.60" fill="#3b7cb7"/>
<rect x="190.4" y="340.21" width="19.5" height="6.60" fill="#496aaf"/>
<rect x="190.4" y="346.40" width="19.5" height="6.60" fill="#5758a6"/>
<rect x="190.4" y="154.3" width="19.5" height="198.3" fill="none" stroke="#1a1a1a" stroke-width="1.2"/>
<path d="M204.5,204.1h5.4M204.5,253.7h5.4M204.5,302.9h5.4" stroke="#222" stroke-width="1.2"/>
<text x="219.5" y="160.9" font-family='"Liberation Sans", sans-serif' font-weight="bold" font-size="18.5" fill="#262626">800</text>
<text x="219.5" y="210.7" font-family='"Liberation Sans", sans-serif' font-weight="bold" font-size="18.5" fill="#262626">600</text>
<text x="219.5" y="260.3" font-family='"Liberation Sans", sans-serif' font-weight="bold" font-size="18.5" fill="#262626">400</text>
<text x="219.5" y="309.5" font-family='"Liberation Sans", sans-serif' font-weight="bold" font-size="18.5" fill="#262626">200</text>
<text x="219.5" y="359.2" font-family='"Liberation Sans", sans-serif' font-weight="bold" font-size="18.5" fill="#262626">0</text>
<text transform="translate(281.5,320.6) rotate(-90)" font-family='"Liberation Sans", sans-serif' font-weight="bold" font-size="22" fill="#262626">EKE [cm<tspan font-size="16" dy="-10.5">2</tspan><tspan dy="10.5">/s</tspan><tspan font-size="16" dy="-10.5">2</tspan><tspan dy="10.5">]</tspan></text>
<rect x="947.9" y="143.6" width="174" height="117" fill="#fff" stroke="#000" stroke-width="1.9"/>
<path d="M960,178.5h49" stroke="#000" stroke-width="3.2"/>
<path d="M961,224.8h49" stroke="#000" stroke-width="3.2" stroke-dasharray="10.6,8.6"/>
<text x="1044" y="172" text-anchor="middle" font-family='"Liberation Serif", serif' font-style="italic" font-size="20">∂u</text>
<path d="M1032,178h24" stroke="#000" stroke-width="1.4"/>
<text x="1044" y="199" text-anchor="middle" font-family='"Liberation Serif", serif' font-style="italic" font-size="20">∂y</text>
<text x="1062.5" y="187.5" font-family='"Liberation Serif", serif' font-size="30">&lt; 0</text>
<text x="1044" y="219" text-anchor="middle" font-family='"Liberation Serif", serif' font-style="italic" font-size="20">∂u</text>
<path d="M1032,225h24" stroke="#000" stroke-width="1.4"/>
<text x="1044" y="246" text-anchor="middle" font-family='"Liberation Serif", serif' font-style="italic" font-size="20">∂y</text>
<text x="1062.5" y="234.5" font-family='"Liberation Serif", serif' font-size="30">&gt; 0</text>
<text x="655" y="196.5" font-family='"Liberation Sans", sans-serif' font-weight="bold" font-style="italic" font-size="40.5" textLength="245" lengthAdjust="spacingAndGlyphs" fill="#000">Pacific Ocean</text>
<text x="184" y="497" font-family='"Liberation Sans", sans-serif' font-weight="bold" font-style="italic" font-size="22" textLength="121" lengthAdjust="spacingAndGlyphs" fill="#fff" transform="rotate(-50.6 184 497)">Kalimantan</text>
<text x="540" y="358" font-family='"Liberation Sans", sans-serif' font-weight="bold" font-style="italic" font-size="23" textLength="111" lengthAdjust="spacingAndGlyphs" fill="#fff" transform="rotate(-58.5 540 358)">Mindanao</text>
<text x="351.5" y="701.5" font-family='"Liberation Sans", sans-serif' font-weight="bold" font-style="italic" font-size="21.5" textLength="91" lengthAdjust="spacingAndGlyphs" fill="#fff" transform="rotate(-31 351.5 701.5)">Sulawesi</text>
<text x="392" y="417" font-family='"Liberation Sans", sans-serif' font-weight="bold" font-style="italic" font-size="23" textLength="133" lengthAdjust="spacingAndGlyphs" fill="#000" transform="rotate(-8.4 392 417)">Sulawesi Sea</text>
<text x="242" y="704" font-family='"Liberation Sans", sans-serif' font-weight="bold" font-style="italic" font-size="23" textLength="165" lengthAdjust="spacingAndGlyphs" fill="#000" transform="rotate(-49 242 704)">Makassar Strait</text>
<text x="1013" y="704.8" font-family='"Liberation Sans", sans-serif' font-weight="bold" font-style="italic" font-size="21.5" textLength="126" lengthAdjust="spacingAndGlyphs" fill="#fff">New Guinea</text>
<path d="M343.0,532.0C344.0,534.3 347.2,541.3 349.0,546.0C350.8,550.7 353.3,554.3 353.5,560.0C353.7,565.7 352.9,572.5 350.0,580.0C347.1,587.5 340.8,596.7 336.0,605.0C331.2,613.3 325.2,621.7 321.0,630.0C316.8,638.3 313.2,648.0 311.0,655.0C308.8,662.0 308.1,669.2 307.5,672.0" fill="none" stroke="#000" stroke-width="13" />
<path d="M288.75,663.75 325,668.75 301.25,702.5Z" fill="#000"/>
<path d="M635.8,318.0C635.3,320.3 634.7,326.7 633.0,332.0C631.3,337.3 629.0,342.8 625.5,350.0C622.0,357.2 616.9,367.8 611.7,375.0C606.6,382.2 600.7,388.4 594.6,393.3C588.5,398.2 582.4,401.0 575.0,404.5C567.6,408.0 558.3,411.5 550.0,414.5C541.7,417.5 533.3,419.9 525.0,422.3C516.7,424.7 507.6,426.8 500.0,428.6C492.4,430.4 487.9,431.9 479.6,433.3C471.3,434.7 459.9,435.6 450.0,436.8C440.1,438.0 428.7,439.3 420.0,440.5C411.3,441.7 408.5,442.1 397.7,444.0C386.9,445.9 369.3,449.2 355.1,452.1C340.9,455.0 322.5,458.8 312.6,461.3C302.7,463.8 299.9,465.1 295.5,467.0C291.1,468.9 288.4,470.3 286.5,472.5C284.6,474.7 284.1,477.4 284.0,480.0C283.9,482.6 284.8,485.5 286.0,488.0C287.2,490.5 286.9,490.9 291.3,495.1C295.7,499.4 305.5,508.1 312.6,513.5C319.7,518.9 326.7,523.4 333.8,527.7C340.9,532.0 349.2,536.2 355.1,539.1C361.0,542.0 364.6,544.1 369.3,544.8C374.0,545.5 378.8,545.2 383.5,543.3C388.2,541.4 393.0,536.9 397.7,533.4C402.4,529.9 407.1,524.8 411.8,522.0C416.5,519.2 419.6,517.6 426.0,516.4C432.4,515.2 441.5,515.1 450.0,515.0C458.5,514.9 468.3,515.7 477.0,515.5C485.7,515.3 493.2,515.2 502.0,514.0C510.8,512.8 525.3,509.0 530.0,508.0" fill="none" stroke="#ff0000" stroke-width="13.8" />
<path d="M470.4,414.8 479.6,448.9 452.5,434Z" fill="#ff0000"/>
<path d="M525.75,490 564.5,496.25 537,523.75Z" fill="#ff0000"/>
<path d="M1132.6,645.6C1122.2,643.4 1090.4,637.0 1070.0,632.5C1049.6,628.0 1030.0,623.3 1010.0,618.6C990.0,613.9 969.3,609.1 950.0,604.5C930.7,599.9 909.0,594.5 894.0,591.0C879.0,587.5 871.3,586.3 860.0,583.3C848.7,580.3 836.0,576.1 826.1,572.9C816.2,569.7 809.3,567.2 800.9,564.0C792.5,560.8 784.1,557.6 775.7,553.9C767.3,550.2 757.8,545.9 750.4,542.0C743.0,538.1 736.2,534.2 731.5,530.6C726.8,527.0 723.8,523.4 722.1,520.5C720.4,517.6 721.0,515.7 721.4,513.0C721.8,510.3 722.9,506.8 724.6,504.1C726.3,501.4 728.8,498.9 731.5,496.6C734.2,494.3 739.4,491.5 741.0,490.5" fill="none" stroke="#4472c4" stroke-width="12.5" />
<path d="M728.9,479.4 768.5,475 747.4,509.1Z" fill="#4472c4"/>
<circle cx="725.8" cy="407.2" r="65" fill="none" stroke="#7f7f7f" stroke-width="8.2" stroke-dasharray="22.5,9.5"/>
<path d="M646.9,416.6 673.8,410.2 666,435.8Z" fill="#7f7f7f"/>
<path d="M780.1,407.6 786.5,381 806.1,400.6Z" fill="#7f7f7f"/>
<path d="M614.5,207.0C616.2,213.0 621.4,230.8 624.5,243.0C627.6,255.2 630.9,269.2 633.0,280.0C635.1,290.8 636.6,298.8 637.0,308.0C637.4,317.2 636.4,327.9 635.5,335.0C634.6,342.1 634.2,343.6 631.4,350.4C628.6,357.2 623.4,367.3 618.5,375.7C613.6,384.1 606.1,393.5 602.1,400.9C598.1,408.3 596.2,413.7 594.2,420.0C592.2,426.3 591.1,432.2 589.8,438.9C588.5,445.6 587.2,452.6 586.5,460.0C585.8,467.4 585.5,476.0 585.4,483.0C585.3,490.0 585.1,496.3 586.0,502.0C586.9,507.7 588.1,512.8 590.5,517.0C592.9,521.2 596.6,525.8 600.5,527.0C604.4,528.2 609.4,526.7 614.0,524.5C618.6,522.3 621.7,518.9 628.3,514.0C634.9,509.1 645.1,501.8 653.5,495.3C661.9,488.8 671.0,480.6 678.7,475.0C686.5,469.4 693.1,464.9 700.0,461.5C706.9,458.1 712.7,456.3 720.0,454.5C727.3,452.7 736.6,451.7 744.0,450.9C751.4,450.1 755.2,449.8 764.5,449.5C773.8,449.2 757.1,449.1 800.0,449.0C842.9,448.9 985.0,449.0 1022.0,449.0" fill="none" stroke="#000" stroke-width="13" />
<path d="M567.1,455.3 604.3,456.6 585.5,490Z" fill="#000"/>
<path d="M752.3,432.3 780.4,446.6 752.7,469.4Z" fill="#000"/>
<path d="M1019,430.2 1056.5,449 1019,467.8Z" fill="#000"/>
<text x="658" y="292.5" font-family='"DejaVu Sans", "Liberation Sans", sans-serif' font-weight="bold" font-size="29.5" textLength="52.5" lengthAdjust="spacingAndGlyphs" fill="#000" stroke="#000" stroke-width="2.2" stroke-linejoin="round">MC</text>
<text x="243.5" y="559.5" font-family='"DejaVu Sans", "Liberation Sans", sans-serif' font-weight="bold" font-size="27.5" textLength="55" lengthAdjust="spacingAndGlyphs" fill="#000" stroke="#000" stroke-width="2.2" stroke-linejoin="round">ITF</text>
<text x="788" y="344" font-family='"DejaVu Sans", "Liberation Sans", sans-serif' font-weight="bold" font-size="29" textLength="43.5" lengthAdjust="spacingAndGlyphs" fill="#000" stroke="#000" stroke-width="2.2" stroke-linejoin="round">CE</text>
<text x="885.3" y="429.5" font-family='"DejaVu Sans", "Liberation Sans", sans-serif' font-weight="bold" font-size="28" textLength="95" lengthAdjust="spacingAndGlyphs" fill="#000" stroke="#000" stroke-width="2.2" stroke-linejoin="round">NECC</text>
<text x="863.5" y="563.5" font-family='"DejaVu Sans", "Liberation Sans", sans-serif' font-weight="bold" font-size="27" textLength="247" lengthAdjust="spacingAndGlyphs" fill="#000" stroke="#000" stroke-width="2.2" stroke-linejoin="round" transform="rotate(13.4 863.5 563.5)">NGCC/NGCUC</text>
</g>
<g transform="translate(0,755.0)">
<g clip-path="url(#box)">
<use href="#land"/>
<path d="M301.8,433.0 298.5,433.0 295.2,433.0 295.2,436.2 295.2,439.5 295.2,442.8 295.2,446.1 295.2,449.4 295.2,452.6 295.2,455.9 295.2,459.2 295.2,462.5 295.2,465.8 295.2,469.0 295.2,472.3 295.2,475.6 295.2,478.9 295.2,482.2 295.2,485.4 295.2,488.7 295.2,492.0 295.2,495.3 295.2,498.6 295.2,501.8 295.2,505.1 298.5,505.1 298.5,508.4 298.5,511.7 301.8,511.7 301.8,515.0 301.8,518.2 305.0,518.2 305.0,521.5 308.3,521.5 308.3,524.8 311.6,524.8 311.6,528.1 314.9,528.1 318.2,528.1 318.2,531.4 321.4,531.4 324.7,531.4 324.7,534.6 324.7,537.9 324.7,541.2 324.7,544.5 324.7,547.8 324.7,551.0 324.7,554.3 324.7,557.6 324.7,560.9 328.0,560.9 331.3,560.9 334.6,560.9 334.6,564.2 337.8,564.2 341.1,564.2 344.4,564.2 344.4,560.9 347.7,560.9 351.0,560.9 354.2,560.9 357.5,560.9 357.5,557.6 357.5,554.3 360.8,554.3 360.8,551.0 364.1,551.0 367.4,551.0 370.6,551.0 373.9,551.0 377.2,551.0 380.5,551.0 383.8,551.0 387.0,551.0 387.0,547.8 390.3,547.8 390.3,544.5 393.6,544.5 393.6,541.2 396.9,541.2 400.2,541.2 403.4,541.2 403.4,537.9 406.7,537.9 410.0,537.9 413.3,537.9 416.6,537.9 416.6,541.2 419.8,541.2 423.1,541.2 426.4,541.2 429.7,541.2 433.0,541.2 436.2,541.2 439.5,541.2 439.5,544.5 442.8,544.5 446.1,544.5 449.4,544.5 449.4,547.8 452.6,547.8 455.9,547.8 459.2,547.8 459.2,551.0 462.5,551.0 465.8,551.0 465.8,547.8 469.0,547.8 472.3,547.8 475.6,547.8 478.9,547.8 482.2,547.8 485.4,547.8 488.7,547.8 488.7,551.0 492.0,551.0 495.3,551.0 498.6,551.0 501.8,551.0 505.1,551.0 505.1,554.3 508.4,554.3 511.7,554.3 515.0,554.3 515.0,551.0 518.2,551.0 521.5,551.0 524.8,551.0 528.1,551.0 528.1,547.8 531.4,547.8 531.4,544.5 531.4,541.2 534.6,541.2 534.6,537.9 537.9,537.9 537.9,534.6 541.2,534.6 544.5,534.6 544.5,531.4 544.5,528.1 544.5,524.8 547.8,524.8 551.0,524.8 551.0,521.5 554.3,521.5 557.6,521.5 557.6,518.2 557.6,515.0 560.9,515.0 564.2,515.0 567.4,515.0 567.4,511.7 570.7,511.7 570.7,508.4 574.0,508.4 574.0,505.1 574.0,501.8 574.0,498.6 574.0,495.3 574.0,492.0 574.0,488.7 574.0,485.4 574.0,482.2 574.0,478.9 577.3,478.9 577.3,475.6 577.3,472.3 574.0,472.3 574.0,469.0 574.0,465.8 574.0,462.5 574.0,459.2 574.0,455.9 574.0,452.6 577.3,452.6 577.3,449.4 577.3,446.1 580.6,446.1 580.6,442.8 583.8,442.8 583.8,439.5 583.8,436.2 583.8,433.0 583.8,429.7 583.8,426.4 583.8,423.1 583.8,419.8 583.8,416.6 580.6,416.6 577.3,416.6 577.3,413.3 577.3,410.0 577.3,406.7 577.3,403.4 577.3,400.2 577.3,396.9 577.3,393.6 577.3,390.3 577.3,387.0 577.3,383.8 574.0,383.8 570.7,383.8 570.7,380.5 567.4,380.5 567.4,377.2 564.2,377.2 564.2,373.9 564.2,370.6 560.9,370.6 560.9,367.4 557.6,367.4 554.3,367.4 554.3,364.1 551.0,364.1 547.8,364.1 544.5,364.1 544.5,360.8 541.2,360.8 541.2,357.5 537.9,357.5 534.6,357.5 534.6,354.2 531.4,354.2 531.4,351.0 528.1,351.0 528.1,347.7 524.8,347.7 524.8,344.4 521.5,344.4 521.5,341.1 518.2,341.1 518.2,337.8 518.2,334.6 515.0,334.6 515.0,331.3 515.0,328.0 515.0,324.7 515.0,321.4 515.0,318.2 515.0,314.9 515.0,311.6 515.0,308.3 518.2,308.3 518.2,305.0 515.0,305.0 515.0,301.8 515.0,298.5 515.0,295.2 511.7,295.2 508.4,295.2 505.1,295.2 501.8,295.2 501.8,298.5 501.8,301.8 501.8,305.0 498.6,305.0 495.3,305.0 492.0,305.0 488.7,305.0 488.7,308.3 488.7,311.6 485.4,311.6 482.2,311.6 478.9,311.6 475.6,311.6 472.3,311.6 469.0,311.6 469.0,314.9 465.8,314.9 465.8,318.2 462.5,318.2 462.5,321.4 459.2,321.4 459.2,324.7 459.2,328.0 459.2,331.3 455.9,331.3 455.9,334.6 452.6,334.6 452.6,337.8 449.4,337.8 449.4,341.1 446.1,341.1 442.8,341.1 442.8,344.4 442.8,347.7 442.8,351.0 442.8,354.2 439.5,354.2 439.5,357.5 436.2,357.5 433.0,357.5 433.0,360.8 429.7,360.8 426.4,360.8 423.1,360.8 423.1,364.1 419.8,364.1 416.6,364.1 416.6,367.4 413.3,367.4 410.0,367.4 410.0,370.6 406.7,370.6 406.7,373.9 403.4,373.9 403.4,377.2 403.4,380.5 400.2,380.5 396.9,380.5 393.6,380.5 393.6,383.8 393.6,387.0 390.3,387.0 390.3,390.3 387.0,390.3 387.0,393.6 383.8,393.6 380.5,393.6 380.5,396.9 377.2,396.9 373.9,396.9 373.9,400.2 370.6,400.2 367.4,400.2 364.1,400.2 364.1,403.4 360.8,403.4 360.8,406.7 357.5,406.7 354.2,406.7 354.2,410.0 351.0,410.0 347.7,410.0 347.7,413.3 344.4,413.3 341.1,413.3 341.1,416.6 337.8,416.6 334.6,416.6 334.6,419.8 334.6,423.1 331.3,423.1 328.0,423.1 324.7,423.1 321.4,423.1 321.4,426.4 321.4,429.7 321.4,433.0 321.4,436.2 318.2,436.2 314.9,436.2 311.6,436.2 308.3,436.2 305.0,436.2 305.0,433.0Z" fill="#fff" stroke="#fff" stroke-width="3" stroke-linejoin="miter"/>
<g clip-path="url(#sea)" fill-rule="evenodd">
<rect x="285" y="285" width="310" height="290" fill="#5758a6"/>
<path d="M462.0,317.8 468.0,318.7 480.0,324.2 484.0,325.0 494.0,325.2 500.0,325.8 506.0,327.4 512.0,330.3 522.0,337.3 532.0,346.7 539.4,356.0 548.7,370.0 554.0,375.7 564.0,382.1 572.0,386.2 580.0,389.9 594.0,395.3 594.0,568.2 585.9,574.0 284.0,574.0 284.0,452.7 290.3,448.0 294.4,444.0 295.5,442.0 294.5,438.0 294.6,436.0 295.8,434.0 300.3,430.0 306.0,426.4 320.0,420.1 348.0,405.2 360.0,397.8 374.0,390.4 382.0,382.7 390.3,376.0 398.0,366.3 402.0,362.5 416.0,353.3 429.5,346.0 432.0,343.1 438.0,333.9 442.0,329.7 448.0,324.4 452.0,321.4 456.0,319.2Z" fill="#496aaf"/>
<path d="M458.0,329.2 462.0,328.4 466.0,328.6 490.0,333.0 498.0,335.0 506.0,338.8 518.0,345.6 528.0,353.1 534.0,359.0 544.2,372.0 550.2,378.0 576.0,394.5 594.0,403.8 594.0,452.5 590.0,451.1 586.0,448.6 574.0,439.8 570.0,439.5 568.0,440.2 566.5,442.0 565.8,446.0 567.2,452.0 570.0,456.5 574.0,459.3 582.0,462.6 586.0,464.8 589.1,468.0 590.8,472.0 591.4,476.0 590.4,482.0 588.6,486.0 584.3,492.0 583.5,494.0 584.0,496.0 591.1,506.0 594.0,512.5 594.0,531.1 590.5,538.0 587.1,542.0 582.0,546.1 566.0,554.6 560.0,558.7 554.0,565.6 548.5,574.0 284.0,574.0 284.0,459.7 296.0,450.5 300.0,446.1 301.6,442.0 301.6,436.0 302.5,434.0 306.0,430.6 310.3,428.0 320.0,423.5 338.0,413.1 350.0,407.0 362.0,399.7 376.0,393.2 378.0,391.6 384.0,384.6 391.6,380.0 393.8,378.0 399.4,370.0 404.0,365.5 422.0,354.5 426.0,352.8 434.0,351.5 436.0,350.3 439.1,342.0 442.0,338.3 446.0,335.6Z" fill="#3b7cb7"/>
<path d="M462.0,337.7 466.0,336.8 472.0,336.6 484.0,337.8 494.0,340.5 502.0,344.5 514.5,352.0 524.0,358.5 530.0,363.5 539.8,374.0 546.0,379.7 550.0,382.5 560.0,388.1 572.0,398.9 588.6,410.0 594.0,415.0 594.0,436.7 591.2,438.0 588.0,438.7 582.0,438.4 578.0,437.3 570.0,433.1 566.0,432.4 564.0,432.8 562.0,434.4 560.1,440.0 559.7,444.0 560.0,449.2 561.2,454.0 562.9,458.0 566.0,462.6 575.8,472.0 577.7,476.0 577.6,480.0 576.6,482.0 574.7,484.0 570.0,486.9 568.0,488.7 565.8,492.0 564.6,496.0 564.4,498.0 565.0,500.0 572.4,506.0 573.8,508.0 575.7,512.0 576.4,516.0 576.2,520.0 574.9,524.0 573.7,526.0 569.9,530.0 554.0,540.2 548.0,545.6 542.0,553.9 529.6,574.0 284.0,574.0 284.0,466.7 296.0,456.3 302.0,449.8 305.3,444.0 306.6,436.0 308.0,434.0 313.2,430.0 322.0,425.4 330.0,420.2 342.0,413.5 352.0,408.8 362.0,402.6 366.0,400.6 378.0,395.9 380.0,394.3 384.0,388.1 386.0,386.2 388.0,385.0 394.0,383.0 395.3,382.0 397.1,380.0 402.2,372.0 406.0,368.6 416.0,363.0 422.7,358.0 426.0,356.3 430.0,355.3 436.0,355.9 438.0,355.7 440.7,354.0 442.0,352.0 442.9,346.0 444.2,344.0 448.0,342.1 454.0,340.6Z" fill="#378ebb"/>
<path d="M468.0,343.6 472.0,342.8 478.0,342.5 486.0,343.7 494.0,346.7 505.8,354.0 524.0,366.8 544.0,383.4 556.0,390.0 558.7,392.0 568.0,403.5 580.8,416.0 583.5,420.0 584.3,422.0 584.3,426.0 583.1,428.0 582.0,428.8 580.0,429.3 572.0,426.9 566.0,426.3 562.0,427.5 560.0,429.1 557.9,432.0 556.5,436.0 555.4,442.0 555.1,448.0 555.6,452.0 556.7,456.0 558.5,460.0 566.7,472.0 568.3,476.0 568.3,478.0 567.7,480.0 559.6,490.0 555.4,498.0 554.0,502.0 553.4,506.0 553.7,514.0 553.3,518.0 550.9,524.0 546.6,530.0 535.2,544.0 516.0,571.0 513.5,574.0 284.0,574.0 284.0,475.0 288.2,470.0 298.0,460.2 304.0,452.6 308.8,444.0 310.2,438.0 311.1,436.0 315.4,432.0 322.0,428.2 330.0,422.7 340.0,417.0 352.0,411.3 366.0,403.3 380.0,398.1 382.4,396.0 385.4,390.0 387.4,388.0 390.0,386.7 394.9,386.0 398.0,384.1 400.0,382.0 406.0,373.2 408.0,371.8 418.0,366.8 426.0,359.2 430.0,357.6 432.0,357.4 438.0,358.0 445.3,356.0 454.0,349.2 462.0,345.5Z" fill="#47a0b3"/>
<path d="M470.0,349.8 476.0,348.3 482.0,348.2 488.0,349.9 494.0,353.2 514.0,368.0 540.0,386.4 554.0,395.1 558.2,400.0 563.4,410.0 564.4,414.0 564.2,416.0 563.3,418.0 558.0,424.0 555.5,428.0 552.7,436.0 550.8,446.0 550.9,452.0 552.0,457.0 554.1,462.0 559.0,470.0 559.9,472.0 560.2,476.0 558.9,480.0 553.9,488.0 550.9,494.0 546.6,508.0 544.0,514.7 538.5,524.0 512.0,558.6 504.0,567.3 496.4,574.0 312.0,574.0 302.0,565.8 294.7,558.0 289.2,550.0 284.7,540.0 284.0,537.6 284.0,492.2 285.7,486.0 288.2,480.0 292.0,474.0 300.0,464.6 304.0,459.0 310.0,447.2 312.4,440.0 314.0,437.1 317.1,434.0 330.0,425.2 342.0,418.3 354.0,412.7 366.0,406.0 378.0,401.8 382.0,399.7 384.0,397.7 386.7,392.0 388.1,390.0 390.0,388.8 396.5,388.0 400.7,386.0 402.9,384.0 408.0,377.9 410.0,376.3 418.0,372.7 420.0,371.2 426.0,362.4 429.1,360.0 434.0,359.0 442.0,359.5 450.0,361.3 452.0,360.8 464.0,352.7Z" fill="#58b2ac"/>
<path d="M474.0,355.6 478.0,354.5 482.0,354.3 486.0,355.7 492.0,359.3 512.0,375.6 530.0,386.5 546.3,398.0 550.0,401.6 551.7,404.0 554.0,410.0 554.4,414.0 553.8,418.0 547.0,442.0 545.8,450.0 546.2,456.0 547.1,460.0 551.9,472.0 552.1,474.0 551.2,478.0 545.7,490.0 541.9,502.0 538.0,509.0 530.3,520.0 508.4,548.0 500.0,556.7 492.0,563.2 482.0,569.5 472.7,574.0 355.9,574.0 346.0,570.9 336.0,566.5 316.0,554.3 309.9,550.0 305.6,546.0 301.0,540.0 297.9,534.0 296.0,528.0 294.8,518.0 295.4,502.0 294.6,488.0 295.0,484.0 296.1,480.0 298.3,476.0 304.0,467.6 307.0,462.0 314.0,442.0 316.0,438.6 318.7,436.0 330.0,427.7 344.0,419.5 355.9,414.0 366.0,408.6 378.0,404.5 382.0,402.7 386.0,399.0 390.0,391.4 392.0,390.5 396.0,390.7 400.0,390.0 403.9,388.0 412.0,381.6 416.0,379.9 424.0,377.6 425.9,376.0 425.8,370.0 426.6,366.0 427.7,364.0 430.0,361.7 432.0,360.7 436.0,360.3 440.0,360.9 442.0,361.7 444.6,364.0 446.2,368.0 448.0,369.5 450.0,369.9 454.0,368.4 468.0,358.7Z" fill="#69c3a5"/>
<path d="M434.0,361.6 438.0,361.7 441.6,364.0 442.5,366.0 444.0,373.5 446.0,375.6 448.0,376.3 452.0,376.1 456.0,374.6 470.0,366.5 476.0,363.9 480.0,363.3 482.0,363.4 486.0,364.7 494.0,369.8 508.0,381.9 525.7,394.0 537.9,404.0 542.0,408.6 544.0,412.0 545.3,416.0 546.1,420.0 546.4,426.0 545.8,432.0 541.5,442.0 539.7,450.0 539.6,456.0 541.6,470.0 541.6,474.0 540.4,480.0 536.0,492.1 533.6,498.0 530.3,504.0 522.0,516.0 506.0,536.9 500.0,543.6 494.0,548.9 484.0,555.6 474.0,560.5 464.0,564.1 452.0,567.0 440.0,568.4 424.0,568.8 408.0,567.9 396.0,566.2 362.0,558.3 352.0,555.6 342.0,551.6 322.0,541.5 316.0,537.0 312.0,532.1 310.0,528.0 308.8,522.0 309.0,518.0 310.7,512.0 317.8,500.0 319.1,496.0 319.0,494.0 318.0,491.5 316.0,489.3 308.8,484.0 307.6,482.0 307.3,480.0 311.7,464.0 314.0,448.0 316.0,442.5 318.0,440.0 330.4,430.0 343.9,422.0 366.0,411.3 380.0,406.6 384.0,404.6 388.0,401.0 392.0,394.9 394.0,394.0 398.0,394.1 402.0,393.4 406.0,391.5 414.0,386.6 418.0,385.4 428.0,383.6 431.7,382.0 433.7,380.0 434.1,378.0 433.5,376.0 430.0,371.1 429.1,368.0 429.4,366.0 430.3,364.0 432.0,362.5Z" fill="#7ecca5"/>
<path d="M434.0,363.3 436.0,362.7 439.0,364.0 439.9,366.0 440.0,368.0 439.2,370.0 438.0,371.4 436.0,371.6 434.0,370.6 432.1,368.0 432.0,366.0 433.0,364.0ZM476.0,373.7 482.0,373.5 486.0,374.6 490.0,376.5 498.0,382.2 509.4,392.0 514.4,398.0 517.3,404.0 518.1,410.0 517.3,420.0 518.0,422.6 520.0,424.9 522.0,426.2 524.0,426.8 532.1,428.0 534.0,429.5 534.6,432.0 531.3,446.0 530.7,452.0 530.5,470.0 529.4,476.0 527.5,482.0 521.2,498.0 517.0,506.0 507.5,520.0 496.0,534.2 490.0,539.5 482.0,544.5 472.0,549.2 462.0,552.6 454.0,554.6 444.0,555.9 434.0,556.3 420.0,556.0 410.0,555.4 402.0,554.2 396.0,552.6 378.0,546.5 360.0,543.7 352.0,541.9 344.0,539.2 337.0,536.0 330.0,532.0 326.0,528.8 322.4,524.0 321.6,520.0 322.4,516.0 326.8,502.0 327.4,496.0 327.2,492.0 325.8,486.0 321.3,474.0 319.1,462.0 316.7,452.0 316.4,448.0 316.7,446.0 318.0,443.7 326.0,438.2 329.4,434.0 332.0,431.7 346.0,423.4 368.0,413.3 382.0,409.1 387.5,406.0 394.0,400.5 396.0,399.6 402.5,398.0 418.0,391.4 432.0,388.3 442.0,385.2 454.0,382.3 470.0,375.6ZM329.8,446.0 329.3,448.0 330.0,449.8 332.0,450.4 332.6,448.0 330.5,446.0Z" fill="#94d4a4"/>
<path d="M474.0,383.9 478.0,383.3 482.0,383.4 486.0,384.2 490.0,385.7 494.0,388.0 498.0,390.9 501.2,394.0 504.0,398.0 505.7,402.0 506.6,406.0 506.7,420.0 507.6,426.0 509.8,432.0 515.6,444.0 517.4,450.0 518.4,456.0 518.9,464.0 518.3,472.0 516.3,480.0 511.6,494.0 508.0,501.7 504.0,508.4 498.0,516.5 492.0,523.2 486.8,528.0 481.2,532.0 474.0,536.0 466.0,539.5 458.0,542.3 450.0,544.3 444.0,545.1 436.0,545.5 412.0,545.1 406.0,544.4 398.0,541.6 384.0,533.5 380.0,532.6 364.0,532.4 356.0,531.3 346.8,528.0 343.3,526.0 340.0,523.3 338.0,521.0 336.2,518.0 334.8,512.0 334.5,484.0 335.0,478.0 336.2,474.0 338.0,470.8 346.0,462.0 349.0,458.0 350.9,454.0 351.5,450.0 349.9,448.0 340.0,444.5 332.7,440.0 331.7,438.0 332.0,436.0 333.6,434.0 342.0,429.4 350.2,424.0 360.0,420.5 370.0,415.7 384.0,412.5 390.0,409.6 400.0,403.8 410.0,401.0 428.0,394.8 432.0,394.0 444.0,393.1 450.0,391.9Z" fill="#aadca4"/>
<path d="M476.0,395.4 482.0,394.6 488.0,395.3 492.0,397.1 494.8,400.0 495.7,402.0 496.4,406.0 496.3,418.0 497.2,426.0 498.9,432.0 505.3,450.0 508.2,464.0 508.4,470.0 507.7,476.0 506.2,482.0 503.3,490.0 500.4,496.0 496.7,502.0 492.0,507.9 488.0,512.1 482.0,517.3 476.0,521.5 468.5,526.0 460.3,530.0 452.0,533.2 446.0,534.8 434.0,536.1 414.0,536.2 408.0,535.6 402.0,533.2 392.0,525.1 386.2,522.0 382.0,521.8 370.0,522.8 362.0,522.2 355.0,520.0 352.0,518.4 349.1,516.0 347.4,514.0 345.1,510.0 343.5,504.0 342.8,494.0 343.5,486.0 345.3,482.0 348.0,478.3 361.1,466.0 366.2,460.0 368.6,456.0 370.3,452.0 371.5,446.0 370.9,442.0 370.1,440.0 368.9,438.0 365.3,434.0 360.0,430.3 358.0,429.8 352.0,430.5 351.3,430.0 351.7,428.0 354.0,427.4 358.0,427.4 360.0,426.7 368.0,421.6 372.0,419.9 386.0,419.7 390.0,419.1 394.0,417.4 404.0,411.9 422.0,407.1 430.0,404.0 434.0,403.6 446.0,405.6 454.0,405.0 458.0,403.7 470.0,397.6Z" fill="#bce4a0"/>
<path d="M470.0,420.0 474.0,420.3 478.0,421.9 480.0,423.5 484.0,428.6 490.0,438.8 494.7,448.0 497.7,456.0 499.5,464.0 499.8,470.0 499.4,474.0 498.0,480.0 495.6,486.0 492.2,492.0 489.3,496.0 485.7,500.0 480.0,505.0 462.0,516.9 450.0,523.3 440.0,526.4 428.0,527.5 418.0,527.4 410.0,526.1 406.0,524.3 396.0,518.0 392.0,516.4 386.0,515.2 374.0,515.0 368.0,514.2 361.6,512.0 358.5,510.0 356.4,508.0 354.2,504.0 353.2,498.0 354.1,492.0 356.1,488.0 359.4,484.0 368.2,476.0 374.0,469.2 378.0,463.2 385.2,450.0 388.1,446.0 408.0,427.6 412.0,425.3 418.0,423.9 432.0,424.2 446.0,422.0Z" fill="#cfec9d"/>
<path d="M422.0,431.8 442.0,430.8 454.0,431.9 460.0,433.2 466.0,435.2 471.5,438.0 476.0,441.1 482.0,446.7 486.0,451.7 488.6,456.0 490.9,462.0 491.7,468.0 491.0,474.0 488.8,480.0 486.0,484.9 482.0,489.8 477.5,494.0 452.0,511.6 444.0,515.9 436.0,518.2 428.0,519.0 420.0,518.4 412.0,516.2 402.0,511.3 396.0,509.1 392.0,508.5 380.0,508.4 376.0,507.7 372.0,506.0 369.4,504.0 367.9,502.0 367.1,500.0 366.8,498.0 367.7,494.0 370.2,490.0 379.9,480.0 382.9,476.0 386.0,470.4 391.1,458.0 394.5,452.0 400.0,445.3 408.0,438.0 414.0,434.2 418.0,432.7Z" fill="#e1f399"/>
<path d="M422.0,438.0 430.0,436.8 438.0,436.8 446.0,438.0 452.0,440.0 459.2,444.0 476.0,457.2 480.0,461.3 482.4,466.0 482.3,470.0 480.0,475.6 477.1,480.0 471.6,486.0 448.0,504.7 442.0,508.1 434.0,510.5 428.0,510.9 422.0,510.1 416.0,508.0 412.0,505.8 404.7,500.0 399.4,494.0 397.1,490.0 395.3,484.0 394.8,478.0 395.4,470.0 397.2,462.0 399.8,456.0 403.9,450.0 410.0,444.0 416.0,440.2Z" fill="#ecf7a1"/>
<path d="M430.0,441.9 436.0,441.9 442.0,443.0 448.0,445.6 451.5,448.0 455.2,452.0 464.0,466.0 465.0,468.0 465.9,472.0 465.4,476.0 462.6,482.0 457.6,488.0 451.1,494.0 446.0,498.1 440.0,501.5 436.0,502.9 430.0,503.6 424.0,502.8 420.0,501.3 416.0,498.8 413.1,496.0 410.3,492.0 403.9,480.0 402.5,476.0 401.9,470.0 402.8,464.0 404.1,460.0 406.2,456.0 410.0,451.2 414.0,447.6 420.0,444.2 424.0,442.8Z" fill="#f4faad"/>
<path d="M424.0,447.9 428.0,446.9 434.0,446.7 440.0,447.9 444.4,450.0 448.0,452.9 450.4,456.0 455.1,466.0 456.4,470.0 456.5,476.0 455.3,480.0 452.9,484.0 449.4,488.0 444.8,492.0 440.0,494.9 436.0,496.4 432.0,497.1 428.0,497.0 424.0,495.9 420.0,493.8 416.0,490.2 414.0,487.7 410.6,482.0 408.1,476.0 407.3,472.0 407.4,468.0 408.2,464.0 410.0,459.7 412.4,456.0 416.0,452.4 420.0,449.7Z" fill="#fcfeba"/>
<path d="M428.0,451.8 432.0,451.4 436.0,451.8 442.0,454.4 444.0,456.0 447.1,460.0 449.0,464.0 450.6,470.0 450.6,474.0 449.6,478.0 446.0,483.8 443.7,486.0 440.0,488.6 436.0,490.4 432.0,491.2 428.0,491.0 424.7,490.0 422.0,488.6 418.8,486.0 414.4,480.0 412.8,476.0 412.2,472.0 412.8,466.0 414.3,462.0 416.0,459.4 419.3,456.0 422.0,454.1Z" fill="#fffab6"/>
<path d="M426.0,457.7 432.0,456.3 436.0,456.9 438.0,457.7 442.0,460.9 444.8,466.0 445.4,472.0 444.0,476.9 442.0,480.0 440.0,481.9 436.0,484.3 430.0,485.4 424.7,484.0 422.0,482.3 420.0,480.3 417.6,476.0 417.0,472.0 418.1,466.0 420.0,462.6 422.0,460.4Z" fill="#fff0a6"/>
<path d="M428.0,463.4 432.0,462.1 434.0,462.2 437.7,464.0 439.2,466.0 439.8,468.0 439.5,472.0 438.6,474.0 437.0,476.0 434.0,478.0 430.0,478.6 428.0,478.3 424.4,476.0 423.4,474.0 423.1,472.0 423.9,468.0 426.0,465.0Z" fill="#fee695"/>
<g transform="translate(280,280) scale(0.25214)" fill="none" stroke="#000" stroke-width="5"><path d="M480.0,800.0C478.3,793.3 466.7,774.2 470.0,760.0C473.3,745.8 481.7,728.3 500.0,715.0C518.3,701.7 546.7,690.8 580.0,680.0C613.3,669.2 663.3,656.7 700.0,650.0C736.7,643.3 766.7,638.3 800.0,640.0C833.3,641.7 868.3,650.0 900.0,660.0C931.7,670.0 980.0,683.3 990.0,700.0C1000.0,716.7 978.3,743.3 960.0,760.0C941.7,776.7 913.3,789.2 880.0,800.0C846.7,810.8 803.3,818.3 760.0,825.0C716.7,831.7 658.3,838.3 620.0,840.0C581.7,841.7 553.3,841.7 530.0,835.0C506.7,828.3 488.3,805.8 480.0,800.0M1100.8,580.8C1100.0,582.4 1099.7,587.4 1096.2,590.9C1092.8,594.4 1087.0,598.2 1080.0,601.6C1073.1,605.1 1064.1,608.6 1054.8,611.4C1045.4,614.2 1034.5,616.8 1024.2,618.6C1013.9,620.5 1002.7,621.8 992.9,622.3C983.2,622.8 973.5,622.6 965.8,621.8C958.2,620.9 951.4,619.3 947.0,617.2C942.6,615.1 939.8,612.3 939.2,609.2C938.7,606.2 940.3,602.6 943.8,599.1C947.2,595.6 953.0,591.8 960.0,588.4C966.9,584.9 975.9,581.4 985.2,578.6C994.6,575.8 1005.5,573.2 1015.8,571.4C1026.1,569.5 1037.3,568.2 1047.1,567.7C1056.8,567.2 1066.5,567.4 1074.2,568.2C1081.8,569.1 1088.6,570.7 1093.0,572.8C1097.4,574.9 1099.5,579.4 1100.8,580.8M60.0,800.0C66.7,796.7 83.3,784.2 100.0,780.0C116.7,775.8 140.0,771.7 160.0,775.0C180.0,778.3 205.0,787.5 220.0,800.0C235.0,812.5 244.2,833.3 250.0,850.0C255.8,866.7 259.7,889.0 255.0,900.0C250.3,911.0 227.5,913.3 222.0,916.0M105.0,848.0C112.5,849.7 140.5,852.3 150.0,858.0C159.5,863.7 160.0,878.0 162.0,882.0M440.2,949.5C440.0,950.7 440.2,954.1 438.9,956.4C437.6,958.8 435.3,961.3 432.4,963.5C429.5,965.6 425.7,967.8 421.7,969.5C417.8,971.2 413.0,972.7 408.5,973.6C404.0,974.6 399.1,975.2 394.8,975.2C390.5,975.3 386.1,974.9 382.6,974.1C379.1,973.2 376.0,971.9 373.8,970.3C371.7,968.7 370.2,966.6 369.8,964.5C369.3,962.4 369.8,959.9 371.1,957.6C372.4,955.2 374.7,952.7 377.6,950.5C380.5,948.4 384.3,946.2 388.3,944.5C392.2,942.8 397.0,941.3 401.5,940.4C406.0,939.4 410.9,938.8 415.2,938.8C419.5,938.7 423.9,939.1 427.4,939.9C430.9,940.8 434.0,942.1 436.2,943.7C438.3,945.3 439.5,948.5 440.2,949.5M699.3,320.3C698.6,321.5 698.1,325.2 695.0,327.8C691.9,330.4 686.8,333.2 680.8,335.7C674.8,338.2 666.9,340.7 658.8,342.7C650.8,344.8 641.3,346.6 632.5,347.8C623.7,349.1 614.1,349.9 605.8,350.2C597.5,350.5 589.2,350.2 582.8,349.5C576.3,348.8 570.6,347.4 566.9,345.8C563.2,344.2 561.0,342.0 560.7,339.7C560.4,337.5 561.9,334.8 565.0,332.2C568.1,329.6 573.2,326.8 579.2,324.3C585.2,321.8 593.1,319.3 601.2,317.3C609.2,315.2 618.7,313.4 627.5,312.2C636.3,310.9 645.9,310.1 654.2,309.8C662.5,309.5 670.8,309.8 677.2,310.5C683.7,311.2 689.4,312.6 693.1,314.2C696.8,315.8 698.3,319.2 699.3,320.3M840.0,288.0C839.5,288.8 838.9,291.2 837.0,292.6C835.0,294.0 831.9,295.4 828.3,296.5C824.7,297.6 820.0,298.5 815.3,299.1C810.6,299.7 805.1,300.0 800.0,300.0C794.9,300.0 789.4,299.7 784.7,299.1C780.0,298.5 775.3,297.6 771.7,296.5C768.1,295.4 765.0,294.0 763.0,292.6C761.1,291.2 760.0,289.5 760.0,288.0C760.0,286.5 761.1,284.8 763.0,283.4C765.0,282.0 768.1,280.6 771.7,279.5C775.3,278.4 780.0,277.5 784.7,276.9C789.4,276.3 794.9,276.0 800.0,276.0C805.1,276.0 810.6,276.3 815.3,276.9C820.0,277.5 824.7,278.4 828.3,279.5C831.9,280.6 835.0,282.0 837.0,283.4C838.9,284.8 839.5,287.2 840.0,288.0M650.0,290.0C658.3,285.0 675.0,269.2 700.0,260.0C725.0,250.8 766.7,238.3 800.0,235.0C833.3,231.7 875.0,232.5 900.0,240.0C925.0,247.5 933.3,266.7 950.0,280.0C966.7,293.3 981.7,308.3 1000.0,320.0C1018.3,331.7 1040.0,342.5 1060.0,350.0C1080.0,357.5 1106.7,360.0 1120.0,365.0C1133.3,370.0 1136.7,377.5 1140.0,380.0M610.0,350.0C625.0,341.7 668.3,314.7 700.0,300.0C731.7,285.3 766.7,267.3 800.0,262.0C833.3,256.7 873.3,260.0 900.0,268.0C926.7,276.0 940.0,296.3 960.0,310.0C980.0,323.7 1000.0,338.3 1020.0,350.0C1040.0,361.7 1061.7,372.5 1080.0,380.0C1098.3,387.5 1121.7,392.5 1130.0,395.0M520.0,370.0C541.7,367.0 603.3,356.2 650.0,352.0C696.7,347.8 758.3,345.0 800.0,345.0C841.7,345.0 866.7,345.3 900.0,352.0C933.3,358.7 976.7,378.0 1000.0,385.0C1023.3,392.0 1033.3,392.5 1040.0,394.0M450.0,440.0C458.3,433.3 481.7,410.0 500.0,400.0C518.3,390.0 535.0,385.3 560.0,380.0C585.0,374.7 610.0,371.3 650.0,368.0C690.0,364.7 758.3,359.3 800.0,360.0C841.7,360.7 866.7,366.0 900.0,372.0C933.3,378.0 983.3,392.0 1000.0,396.0M750.0,130.0C766.7,129.7 820.0,127.0 850.0,128.0C880.0,129.0 916.7,134.7 930.0,136.0M1130.0,650.0C1135.0,646.7 1148.3,635.0 1160.0,630.0C1171.7,625.0 1193.3,621.7 1200.0,620.0M1150.0,690.0C1146.7,695.0 1129.2,710.8 1130.0,720.0C1130.8,729.2 1150.8,740.8 1155.0,745.0M830.0,95.0C838.3,93.3 864.2,88.8 880.0,85.0C895.8,81.2 917.5,74.2 925.0,72.0"/><path stroke-dasharray="22,14" d="M480.0,420.0C493.3,415.3 523.3,399.0 560.0,392.0C596.7,385.0 651.7,379.2 700.0,378.0C748.3,376.8 800.0,380.0 850.0,385.0C900.0,390.0 958.3,402.2 1000.0,408.0C1041.7,413.8 1073.3,418.0 1100.0,420.0C1126.7,422.0 1150.0,420.0 1160.0,420.0M900.0,525.0C906.7,510.8 940.0,458.3 940.0,440.0C940.0,421.7 923.3,421.3 900.0,415.0C876.7,408.7 846.7,400.3 800.0,402.0C753.3,403.7 676.7,412.8 620.0,425.0C563.3,437.2 495.0,461.7 460.0,475.0C425.0,488.3 416.7,494.2 410.0,505.0C403.3,515.8 410.0,530.8 420.0,540.0C430.0,549.2 446.7,555.8 470.0,560.0C493.3,564.2 521.7,567.0 560.0,565.0C598.3,563.0 660.0,553.0 700.0,548.0C740.0,543.0 766.7,538.8 800.0,535.0C833.3,531.2 883.3,526.7 900.0,525.0M60.0,640.0C66.7,636.7 76.7,628.3 100.0,620.0C123.3,611.7 166.7,603.3 200.0,590.0C233.3,576.7 270.0,555.0 300.0,540.0C330.0,525.0 366.7,506.7 380.0,500.0M90.0,665.0C100.0,660.8 123.3,652.5 150.0,640.0C176.7,627.5 216.7,608.3 250.0,590.0C283.3,571.7 333.3,540.0 350.0,530.0M440.0,1000.0C450.0,999.2 482.5,993.3 500.0,995.0C517.5,996.7 537.5,1007.5 545.0,1010.0M170.0,1040.0C171.7,1047.5 178.3,1077.5 180.0,1085.0M210.0,1030.0C211.0,1041.7 215.0,1088.3 216.0,1100.0M1140.0,800.0C1136.7,805.0 1118.3,821.7 1120.0,830.0C1121.7,838.3 1145.0,846.7 1150.0,850.0M1130.0,880.0C1126.7,885.0 1108.3,902.5 1110.0,910.0C1111.7,917.5 1135.0,922.5 1140.0,925.0"/></g>
</g>
</g>
<use href="#axes"/>
<text x="145.3" y="141.2" text-anchor="end" font-family='"Liberation Sans", sans-serif' font-size="35" fill="#000">12<tspan font-size="27" dy="-17.3">o</tspan><tspan dy="17.3">N</tspan></text>
<text x="145.3" y="259.4" text-anchor="end" font-family='"Liberation Sans", sans-serif' font-size="35" fill="#000">9<tspan font-size="27" dy="-17.3">o</tspan><tspan dy="17.3">N</tspan></text>
<text x="145.3" y="377.5" text-anchor="end" font-family='"Liberation Sans", sans-serif' font-size="35" fill="#000">6<tspan font-size="27" dy="-17.3">o</tspan><tspan dy="17.3">N</tspan></text>
<text x="145.3" y="495.7" text-anchor="end" font-family='"Liberation Sans", sans-serif' font-size="35" fill="#000">3<tspan font-size="27" dy="-17.3">o</tspan><tspan dy="17.3">N</tspan></text>
<text x="145.3" y="613.8" text-anchor="end" font-family='"Liberation Sans", sans-serif' font-size="35" fill="#000">0<tspan font-size="27" dy="-17.3">o</tspan><tspan dy="17.3"></tspan></text>
<text x="145.3" y="732.0" text-anchor="end" font-family='"Liberation Sans", sans-serif' font-size="35" fill="#000">3<tspan font-size="27" dy="-17.3">o</tspan><tspan dy="17.3">S</tspan></text>
<text x="165.0" y="769.5" text-anchor="middle" font-family='"Liberation Sans", sans-serif' font-size="35" fill="#000">115<tspan font-size="27" dy="-17.3">o</tspan><tspan dy="17.3">E</tspan></text>
<text x="361.7" y="769.5" text-anchor="middle" font-family='"Liberation Sans", sans-serif' font-size="35" fill="#000">120<tspan font-size="27" dy="-17.3">o</tspan><tspan dy="17.3">E</tspan></text>
<text x="558.4" y="769.5" text-anchor="middle" font-family='"Liberation Sans", sans-serif' font-size="35" fill="#000">125<tspan font-size="27" dy="-17.3">o</tspan><tspan dy="17.3">E</tspan></text>
<text x="755.1" y="769.5" text-anchor="middle" font-family='"Liberation Sans", sans-serif' font-size="35" fill="#000">130<tspan font-size="27" dy="-17.3">o</tspan><tspan dy="17.3">E</tspan></text>
<text x="951.8" y="769.5" text-anchor="middle" font-family='"Liberation Sans", sans-serif' font-size="35" fill="#000">135<tspan font-size="27" dy="-17.3">o</tspan><tspan dy="17.3">E</tspan></text>
<text x="1148.5" y="769.5" text-anchor="middle" font-family='"Liberation Sans", sans-serif' font-size="35" fill="#000">140<tspan font-size="27" dy="-17.3">o</tspan><tspan dy="17.3">E</tspan></text>
<rect x="190.4" y="154.30" width="19.5" height="6.60" fill="#a40844"/>
<rect x="190.4" y="160.50" width="19.5" height="6.60" fill="#b61b48"/>
<rect x="190.4" y="166.69" width="19.5" height="6.60" fill="#c72e4c"/>
<rect x="190.4" y="172.89" width="19.5" height="6.60" fill="#d7414e"/>
<rect x="190.4" y="179.09" width="19.5" height="6.60" fill="#e1504b"/>
<rect x="190.4" y="185.28" width="19.5" height="6.60" fill="#ea5e47"/>
<rect x="190.4" y="191.48" width="19.5" height="6.60" fill="#f46d43"/>
<rect x="190.4" y="197.68" width="19.5" height="6.60" fill="#f7814c"/>
<rect x="190.4" y="203.88" width="19.5" height="6.60" fill="#fa9656"/>
<rect x="190.4" y="210.07" width="19.5" height="6.60" fill="#fcaa5f"/>
<rect x="190.4" y="216.27" width="19.5" height="6.60" fill="#fdbb6c"/>
<rect x="190.4" y="222.47" width="19.5" height="6.60" fill="#feca79"/>
<rect x="190.4" y="228.66" width="19.5" height="6.60" fill="#feda86"/>
<rect x="190.4" y="234.86" width="19.5" height="6.60" fill="#fee695"/>
<rect x="190.4" y="241.06" width="19.5" height="6.60" fill="#fff0a6"/>
<rect x="190.4" y="247.25" width="19.5" height="6.60" fill="#fffab6"/>
<rect x="190.4" y="253.45" width="19.5" height="6.60" fill="#fcfeba"/>
<rect x="190.4" y="259.65" width="19.5" height="6.60" fill="#f4faad"/>
<rect x="190.4" y="265.84" width="19.5" height="6.60" fill="#ecf7a1"/>
<rect x="190.4" y="272.04" width="19.5" height="6.60" fill="#e1f399"/>
<rect x="190.4" y="278.24" width="19.5" height="6.60" fill="#cfec9d"/>
<rect x="190.4" y="284.43" width="19.5" height="6.60" fill="#bce4a0"/>
<rect x="190.4" y="290.63" width="19.5" height="6.60" fill="#aadca4"/>
<rect x="190.4" y="296.83" width="19.5" height="6.60" fill="#94d4a4"/>
<rect x="190.4" y="303.03" width="19.5" height="6.60" fill="#7ecca5"/>
<rect x="190.4" y="309.22" width="19.5" height="6.60" fill="#69c3a5"/>
<rect x="190.4" y="315.42" width="19.5" height="6.60" fill="#58b2ac"/>
<rect x="190.4" y="321.62" width="19.5" height="6.60" fill="#47a0b3"/>
<rect x="190.4" y="327.81" width="19.5" height="6.60" fill="#378ebb"/>
<rect x="190.4" y="334.01" width="19.5" height="6.60" fill="#3b7cb7"/>
<rect x="190.4" y="340.21" width="19.5" height="6.60" fill="#496aaf"/>
<rect x="190.4" y="346.40" width="19.5" height="6.60" fill="#5758a6"/>
<rect x="190.4" y="154.3" width="19.5" height="198.3" fill="none" stroke="#1a1a1a" stroke-width="1.2"/>
<path d="M204.5,204.1h5.4M204.5,253.7h5.4M204.5,302.9h5.4" stroke="#222" stroke-width="1.2"/>
<text x="219.5" y="160.9" font-family='"Liberation Sans", sans-serif' font-weight="bold" font-size="18.5" fill="#262626">800</text>
<text x="219.5" y="210.7" font-family='"Liberation Sans", sans-serif' font-weight="bold" font-size="18.5" fill="#262626">600</text>
<text x="219.5" y="260.3" font-family='"Liberation Sans", sans-serif' font-weight="bold" font-size="18.5" fill="#262626">400</text>
<text x="219.5" y="309.5" font-family='"Liberation Sans", sans-serif' font-weight="bold" font-size="18.5" fill="#262626">200</text>
<text x="219.5" y="359.2" font-family='"Liberation Sans", sans-serif' font-weight="bold" font-size="18.5" fill="#262626">0</text>
<text transform="translate(281.5,320.6) rotate(-90)" font-family='"Liberation Sans", sans-serif' font-weight="bold" font-size="22" fill="#262626">EKE [cm<tspan font-size="16" dy="-10.5">2</tspan><tspan dy="10.5">/s</tspan><tspan font-size="16" dy="-10.5">2</tspan><tspan dy="10.5">]</tspan></text>
<rect x="947.9" y="143.6" width="174" height="117" fill="#fff" stroke="#000" stroke-width="1.9"/>
<path d="M960,178.5h49" stroke="#000" stroke-width="3.2"/>
<path d="M961,224.8h49" stroke="#000" stroke-width="3.2" stroke-dasharray="10.6,8.6"/>
<text x="1044" y="172" text-anchor="middle" font-family='"Liberation Serif", serif' font-style="italic" font-size="20">∂u</text>
<path d="M1032,178h24" stroke="#000" stroke-width="1.4"/>
<text x="1044" y="199" text-anchor="middle" font-family='"Liberation Serif", serif' font-style="italic" font-size="20">∂y</text>
<text x="1062.5" y="187.5" font-family='"Liberation Serif", serif' font-size="30">&lt; 0</text>
<text x="1044" y="219" text-anchor="middle" font-family='"Liberation Serif", serif' font-style="italic" font-size="20">∂u</text>
<path d="M1032,225h24" stroke="#000" stroke-width="1.4"/>
<text x="1044" y="246" text-anchor="middle" font-family='"Liberation Serif", serif' font-style="italic" font-size="20">∂y</text>
<text x="1062.5" y="234.5" font-family='"Liberation Serif", serif' font-size="30">&gt; 0</text>
<text x="655" y="196.5" font-family='"Liberation Sans", sans-serif' font-weight="bold" font-style="italic" font-size="40.5" textLength="245" lengthAdjust="spacingAndGlyphs" fill="#000">Pacific Ocean</text>
<text x="184" y="497" font-family='"Liberation Sans", sans-serif' font-weight="bold" font-style="italic" font-size="22" textLength="121" lengthAdjust="spacingAndGlyphs" fill="#fff" transform="rotate(-50.6 184 497)">Kalimantan</text>
<text x="540" y="358" font-family='"Liberation Sans", sans-serif' font-weight="bold" font-style="italic" font-size="23" textLength="111" lengthAdjust="spacingAndGlyphs" fill="#fff" transform="rotate(-58.5 540 358)">Mindanao</text>
<text x="351.5" y="701.5" font-family='"Liberation Sans", sans-serif' font-weight="bold" font-style="italic" font-size="21.5" textLength="91" lengthAdjust="spacingAndGlyphs" fill="#fff" transform="rotate(-31 351.5 701.5)">Sulawesi</text>
<text x="392" y="417" font-family='"Liberation Sans", sans-serif' font-weight="bold" font-style="italic" font-size="23" textLength="133" lengthAdjust="spacingAndGlyphs" fill="#000" transform="rotate(-8.4 392 417)">Sulawesi Sea</text>
<text x="242" y="704" font-family='"Liberation Sans", sans-serif' font-weight="bold" font-style="italic" font-size="23" textLength="165" lengthAdjust="spacingAndGlyphs" fill="#000" transform="rotate(-49 242 704)">Makassar Strait</text>
<text x="1013" y="704.8" font-family='"Liberation Sans", sans-serif' font-weight="bold" font-style="italic" font-size="21.5" textLength="126" lengthAdjust="spacingAndGlyphs" fill="#fff">New Guinea</text>
<path d="M343.0,532.0C344.0,534.3 347.2,541.3 349.0,546.0C350.8,550.7 353.3,554.3 353.5,560.0C353.7,565.7 352.9,572.5 350.0,580.0C347.1,587.5 340.8,596.7 336.0,605.0C331.2,613.3 325.2,621.7 321.0,630.0C316.8,638.3 313.2,648.0 311.0,655.0C308.8,662.0 308.1,669.2 307.5,672.0" fill="none" stroke="#000" stroke-width="13" />
<path d="M288.75,663.75 325,668.75 301.25,702.5Z" fill="#000"/>
<path d="M635.8,318.0C635.3,320.3 634.7,326.7 633.0,332.0C631.3,337.3 629.0,343.0 625.5,350.0C622.0,357.0 616.9,367.1 611.7,374.0C606.6,380.9 600.7,387.0 594.6,391.5C588.5,396.0 582.4,398.0 575.0,401.2C567.6,404.4 558.3,407.9 550.0,410.7C541.7,413.5 533.3,415.7 525.0,418.0C516.7,420.3 507.6,422.5 500.0,424.3C492.4,426.1 487.9,427.6 479.6,429.0C471.3,430.4 459.9,431.2 450.0,432.5C440.1,433.8 428.7,435.3 420.0,436.5C411.3,437.7 408.5,437.9 397.7,439.8C386.9,441.7 369.3,444.9 355.1,447.6C340.9,450.3 322.5,453.7 312.6,456.1C302.7,458.5 299.9,460.2 295.5,462.0C291.1,463.8 288.4,465.1 286.5,467.0C284.6,468.9 284.0,471.2 283.8,473.5C283.6,475.8 284.2,478.3 285.5,480.5C286.8,482.7 286.8,482.3 291.3,486.6C295.8,490.9 305.5,500.8 312.6,506.5C319.7,512.2 326.7,516.6 333.8,520.6C340.9,524.6 349.2,528.2 355.1,530.6C361.0,533.0 364.6,534.6 369.3,534.8C374.0,535.0 378.8,534.1 383.5,532.0C388.2,529.9 393.0,525.3 397.7,522.0C402.4,518.7 407.1,514.6 411.8,512.1C416.5,509.6 419.6,508.1 426.0,507.2C432.4,506.3 441.5,506.4 450.0,506.5C458.5,506.6 468.3,507.6 477.0,507.5C485.7,507.4 493.2,507.2 502.0,506.0C510.8,504.8 525.3,501.0 530.0,500.0" fill="none" stroke="#4472c4" stroke-width="13.8" />
<path d="M473,411 480.5,444.5 453.5,434.5Z" fill="#4472c4"/>
<path d="M525.75,482 564.5,488.25 537,515.75Z" fill="#4472c4"/>
<path d="M1131.9,645.8C1123.2,643.3 1098.2,636.3 1079.5,630.8C1060.8,625.3 1039.6,619.0 1019.6,612.8C999.6,606.5 979.7,600.0 959.7,593.3C939.7,586.6 919.8,579.6 899.8,572.4C879.8,565.2 857.0,556.2 839.9,549.9C822.8,543.5 808.5,538.5 797.2,534.3C785.9,530.1 780.4,528.6 772.0,524.9C763.6,521.2 754.1,516.7 746.7,512.3C739.3,507.9 733.0,503.2 727.8,498.4C722.5,493.6 718.1,488.4 715.2,483.3C712.3,478.2 710.8,472.9 710.2,468.1C709.6,463.3 709.9,458.7 711.4,454.3C712.9,449.9 715.4,446.1 719.0,441.7C722.6,437.3 730.7,430.3 733.0,428.0" fill="none" stroke="#ff0000" stroke-width="12.5" />
<path d="M720.4,415.3 759.6,406.2 743,443.7Z" fill="#ff0000"/>
<circle cx="741.1" cy="411.1" r="64.5" fill="none" stroke="#7f7f7f" stroke-width="8.2" stroke-dasharray="22.5,9.5"/>
<path d="M692,347.3 703.5,372 721.5,349.4Z" fill="#7f7f7f"/>
<path d="M766,474.4 776.4,449 793.7,470.3Z" fill="#7f7f7f"/>
<path d="M614.5,207.0C616.2,213.0 621.4,230.8 624.5,243.0C627.6,255.2 630.9,269.2 633.0,280.0C635.1,290.8 636.6,298.8 637.0,308.0C637.4,317.2 636.4,327.9 635.5,335.0C634.6,342.1 634.2,343.6 631.4,350.4C628.6,357.2 623.4,367.3 618.5,375.7C613.6,384.1 606.1,393.5 602.1,400.9C598.1,408.3 596.2,413.7 594.2,420.0C592.2,426.3 591.1,432.2 589.8,438.9C588.5,445.6 587.2,453.1 586.5,460.0C585.8,466.9 585.4,474.5 585.5,480.0C585.6,485.5 585.9,489.5 587.0,493.0C588.1,496.5 589.8,499.0 592.0,501.0C594.2,503.0 596.7,504.8 600.0,505.0C603.3,505.2 606.7,506.0 612.0,502.5C617.3,499.0 625.1,491.0 632.0,484.0C638.9,477.0 646.8,467.8 653.5,460.5C660.2,453.2 666.1,446.8 672.4,440.0C678.7,433.2 685.0,426.8 691.3,420.0C697.6,413.2 704.5,405.2 710.0,399.5C715.5,393.8 718.7,390.2 724.0,386.0C729.3,381.8 735.2,377.0 742.0,374.5C748.8,372.0 754.8,371.6 764.5,371.0C774.2,370.4 757.1,370.8 800.0,370.8C842.9,370.8 985.0,370.8 1022.0,370.8" fill="none" stroke="#000" stroke-width="13" />
<path d="M568.4,456.1 603.4,458.9 585,488Z" fill="#000"/>
<path d="M739,358 770,367 748,393Z" fill="#000"/>
<path d="M1018.6,352 1056.1,370.8 1018.6,389.5Z" fill="#000"/>
<text x="658" y="292.5" font-family='"DejaVu Sans", "Liberation Sans", sans-serif' font-weight="bold" font-size="29.5" textLength="52.5" lengthAdjust="spacingAndGlyphs" fill="#000" stroke="#000" stroke-width="2.2" stroke-linejoin="round">MC</text>
<text x="243.5" y="559.5" font-family='"DejaVu Sans", "Liberation Sans", sans-serif' font-weight="bold" font-size="27.5" textLength="55" lengthAdjust="spacingAndGlyphs" fill="#000" stroke="#000" stroke-width="2.2" stroke-linejoin="round">ITF</text>
<text x="809" y="466.3" font-family='"DejaVu Sans", "Liberation Sans", sans-serif' font-weight="bold" font-size="29" textLength="43.5" lengthAdjust="spacingAndGlyphs" fill="#000" stroke="#000" stroke-width="2.2" stroke-linejoin="round">AE</text>
<text x="885.6" y="354.2" font-family='"DejaVu Sans", "Liberation Sans", sans-serif' font-weight="bold" font-size="28" textLength="96.5" lengthAdjust="spacingAndGlyphs" fill="#000" stroke="#000" stroke-width="2.2" stroke-linejoin="round">NECC</text>
<text x="865.5" y="543.5" font-family='"DejaVu Sans", "Liberation Sans", sans-serif' font-weight="bold" font-size="27" textLength="241" lengthAdjust="spacingAndGlyphs" fill="#000" stroke="#000" stroke-width="2.2" stroke-linejoin="round" transform="rotate(17.1 865.5 543.5)">NGCC/NGCUC</text>
</g>
<rect x="437.7" y="34.3" width="392.7" height="72.6" rx="9" fill="#ffa07a"/>
<text x="476.5" y="85.7" font-family='"Liberation Sans", sans-serif' font-weight="bold" font-size="39.5" textLength="314.5" lengthAdjust="spacingAndGlyphs" fill="#000">High-EKE periods</text>
<rect x="437.6" y="790.3" width="393.4" height="72.9" rx="9" fill="#7dd0f7"/>
<text x="482" y="841.2" font-family='"Liberation Sans", sans-serif' font-weight="bold" font-size="39.5" textLength="305.7" lengthAdjust="spacingAndGlyphs" fill="#000">Low-EKE periods</text>
</svg></body></html>
